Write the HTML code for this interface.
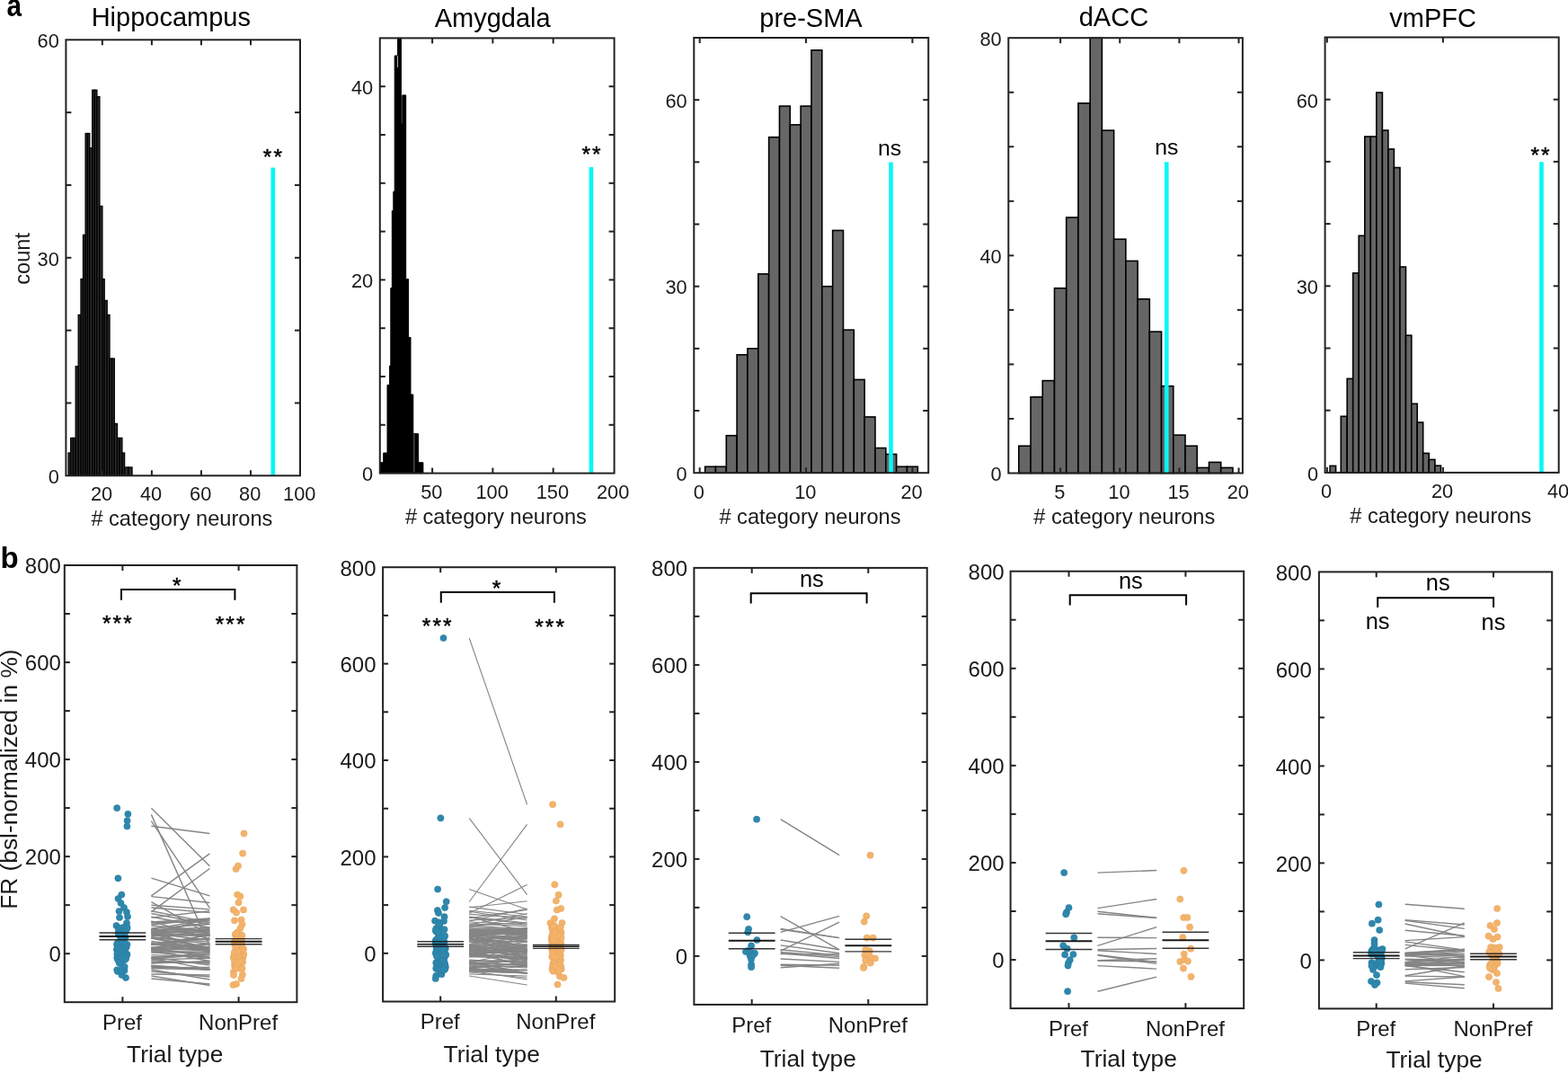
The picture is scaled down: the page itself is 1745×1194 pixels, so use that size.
<!DOCTYPE html>
<html><head><meta charset="utf-8"><title>Figure</title>
<style>html,body{margin:0;padding:0;background:#fff;width:1745px;height:1194px;overflow:hidden;}svg{display:block;}</style>
</head><body>
<svg width="1745" height="1194" viewBox="0 0 1745 1194" font-family="'Liberation Sans', Arial, sans-serif">
<text x="0" y="0" font-size="33" font-weight="bold" fill="#000" transform="matrix(0.9,0,0,1.08,7.4,18.4)">a</text>
<text x="0.5" y="632.2" font-size="33" text-anchor="start" font-weight="bold" fill="#000">b</text>
<rect x="76.1" y="504" width="2.6" height="25.3" fill="#2b2b2b" stroke="#000" stroke-width="1.3"/>
<rect x="78.7" y="487.4" width="2.8" height="41.9" fill="#2b2b2b" stroke="#000" stroke-width="1.3"/>
<rect x="81.5" y="487.4" width="2.7" height="41.9" fill="#2b2b2b" stroke="#000" stroke-width="1.3"/>
<rect x="84.2" y="407.6" width="3" height="121.7" fill="#2b2b2b" stroke="#000" stroke-width="1.3"/>
<rect x="87.2" y="350.4" width="2.8" height="178.9" fill="#2b2b2b" stroke="#000" stroke-width="1.3"/>
<rect x="90" y="310.5" width="2.5" height="218.8" fill="#2b2b2b" stroke="#000" stroke-width="1.3"/>
<rect x="92.5" y="261.4" width="2.6" height="267.9" fill="#2b2b2b" stroke="#000" stroke-width="1.3"/>
<rect x="95.1" y="148.5" width="2.4" height="380.8" fill="#2b2b2b" stroke="#000" stroke-width="1.3"/>
<rect x="97.5" y="148.5" width="2.3" height="380.8" fill="#2b2b2b" stroke="#000" stroke-width="1.3"/>
<rect x="99.8" y="164.7" width="2.9" height="364.6" fill="#2b2b2b" stroke="#000" stroke-width="1.3"/>
<rect x="102.7" y="100.2" width="2.6" height="429.1" fill="#2b2b2b" stroke="#000" stroke-width="1.3"/>
<rect x="105.3" y="100.2" width="2.6" height="429.1" fill="#2b2b2b" stroke="#000" stroke-width="1.3"/>
<rect x="107.9" y="107.6" width="3" height="421.7" fill="#2b2b2b" stroke="#000" stroke-width="1.3"/>
<rect x="110.9" y="229.4" width="3" height="299.9" fill="#2b2b2b" stroke="#000" stroke-width="1.3"/>
<rect x="113.9" y="310.5" width="2.3" height="218.8" fill="#2b2b2b" stroke="#000" stroke-width="1.3"/>
<rect x="116.2" y="334.4" width="3" height="194.9" fill="#2b2b2b" stroke="#000" stroke-width="1.3"/>
<rect x="119.2" y="350.4" width="2.8" height="178.9" fill="#2b2b2b" stroke="#000" stroke-width="1.3"/>
<rect x="122" y="399" width="2.6" height="130.3" fill="#2b2b2b" stroke="#000" stroke-width="1.3"/>
<rect x="124.6" y="399" width="2.7" height="130.3" fill="#2b2b2b" stroke="#000" stroke-width="1.3"/>
<rect x="127.3" y="471.4" width="3.2" height="57.9" fill="#2b2b2b" stroke="#000" stroke-width="1.3"/>
<rect x="130.5" y="487.4" width="2.7" height="41.9" fill="#2b2b2b" stroke="#000" stroke-width="1.3"/>
<rect x="133.2" y="487.4" width="2.7" height="41.9" fill="#2b2b2b" stroke="#000" stroke-width="1.3"/>
<rect x="135.9" y="504" width="2.7" height="25.3" fill="#2b2b2b" stroke="#000" stroke-width="1.3"/>
<rect x="138.6" y="520" width="4.2" height="9.3" fill="#2b2b2b" stroke="#000" stroke-width="1.3"/>
<rect x="142.8" y="520" width="4.2" height="9.3" fill="#2b2b2b" stroke="#000" stroke-width="1.3"/>
<line x1="303.8" y1="186.4" x2="303.8" y2="529.3" stroke="#05f8f8" stroke-width="4.6"/>
<rect x="73.4" y="44.3" width="260.6" height="485" fill="none" stroke="#222" stroke-width="2"/>
<line x1="113.85" y1="529.3" x2="113.85" y2="523.3" stroke="#222" stroke-width="2"/>
<line x1="113.85" y1="44.3" x2="113.85" y2="50.3" stroke="#222" stroke-width="2"/>
<line x1="168.9" y1="529.3" x2="168.9" y2="523.3" stroke="#222" stroke-width="2"/>
<line x1="168.9" y1="44.3" x2="168.9" y2="50.3" stroke="#222" stroke-width="2"/>
<line x1="223.95" y1="529.3" x2="223.95" y2="523.3" stroke="#222" stroke-width="2"/>
<line x1="223.95" y1="44.3" x2="223.95" y2="50.3" stroke="#222" stroke-width="2"/>
<line x1="279" y1="529.3" x2="279" y2="523.3" stroke="#222" stroke-width="2"/>
<line x1="279" y1="44.3" x2="279" y2="50.3" stroke="#222" stroke-width="2"/>
<line x1="73.4" y1="448.47" x2="79.4" y2="448.47" stroke="#222" stroke-width="2"/>
<line x1="334" y1="448.47" x2="328" y2="448.47" stroke="#222" stroke-width="2"/>
<line x1="73.4" y1="367.63" x2="79.4" y2="367.63" stroke="#222" stroke-width="2"/>
<line x1="334" y1="367.63" x2="328" y2="367.63" stroke="#222" stroke-width="2"/>
<line x1="73.4" y1="286.8" x2="79.4" y2="286.8" stroke="#222" stroke-width="2"/>
<line x1="334" y1="286.8" x2="328" y2="286.8" stroke="#222" stroke-width="2"/>
<line x1="73.4" y1="205.97" x2="79.4" y2="205.97" stroke="#222" stroke-width="2"/>
<line x1="334" y1="205.97" x2="328" y2="205.97" stroke="#222" stroke-width="2"/>
<line x1="73.4" y1="125.13" x2="79.4" y2="125.13" stroke="#222" stroke-width="2"/>
<line x1="334" y1="125.13" x2="328" y2="125.13" stroke="#222" stroke-width="2"/>
<text x="113.05" y="557.2" font-size="21.8" text-anchor="middle" fill="#1a1a1a">20</text>
<text x="168.1" y="557.2" font-size="21.8" text-anchor="middle" fill="#1a1a1a">40</text>
<text x="223.15" y="557.2" font-size="21.8" text-anchor="middle" fill="#1a1a1a">60</text>
<text x="278.2" y="557.2" font-size="21.8" text-anchor="middle" fill="#1a1a1a">80</text>
<text x="333.25" y="557.2" font-size="21.8" text-anchor="middle" fill="#1a1a1a">100</text>
<text x="65.8" y="538.1" font-size="21.8" text-anchor="end" fill="#1a1a1a">0</text>
<text x="65.8" y="295.6" font-size="21.8" text-anchor="end" fill="#1a1a1a">30</text>
<text x="65.8" y="53.1" font-size="21.8" text-anchor="end" fill="#1a1a1a">60</text>
<text x="202.4" y="584.9" font-size="23.6" text-anchor="middle" fill="#1a1a1a"># category neurons</text>
<text x="190.3" y="28.7" font-size="29" text-anchor="middle" fill="#000">Hippocampus</text>
<text x="297.6" y="182.9" font-size="24.5" text-anchor="middle" fill="#000" stroke="#000" stroke-width="0.45">*</text>
<text x="309.2" y="182.9" font-size="24.5" text-anchor="middle" fill="#000" stroke="#000" stroke-width="0.45">*</text>
<polygon points="423.5,526.6 423.5,514.7 426.7,514.7 426.7,504 431,504 431,428.3 433.6,428.3 433.6,407 434.8,407 434.8,320.5 436.3,320.5 436.3,234.6 437.8,234.6 437.8,213.2 439.2,213.2 439.2,62 442.6,62 442.6,42.4 446.4,42.4 446.4,137.3 447.8,137.3 447.8,105.9 451.7,105.9 451.7,310.5 454.5,310.5 454.5,375.4 457,375.4 457,439 459.8,439 459.8,482.7 465.6,482.7 465.6,514.7 470.9,514.7 470.9,526.6" fill="#000" stroke="#000" stroke-width="1"/>
<line x1="460.9" y1="483" x2="460.9" y2="525" stroke="#bbb" stroke-width="0.6"/>
<line x1="442.5" y1="62" x2="442.5" y2="75" stroke="#ddd" stroke-width="0.8"/>
<line x1="657.9" y1="185.9" x2="657.9" y2="526.6" stroke="#05f8f8" stroke-width="4.6"/>
<rect x="422.8" y="42.4" width="260.8" height="484.2" fill="none" stroke="#222" stroke-width="2"/>
<line x1="481.1" y1="526.6" x2="481.1" y2="520.6" stroke="#222" stroke-width="2"/>
<line x1="481.1" y1="42.4" x2="481.1" y2="48.4" stroke="#222" stroke-width="2"/>
<line x1="548.38" y1="526.6" x2="548.38" y2="520.6" stroke="#222" stroke-width="2"/>
<line x1="548.38" y1="42.4" x2="548.38" y2="48.4" stroke="#222" stroke-width="2"/>
<line x1="615.66" y1="526.6" x2="615.66" y2="520.6" stroke="#222" stroke-width="2"/>
<line x1="615.66" y1="42.4" x2="615.66" y2="48.4" stroke="#222" stroke-width="2"/>
<line x1="422.8" y1="472.8" x2="428.8" y2="472.8" stroke="#222" stroke-width="2"/>
<line x1="683.6" y1="472.8" x2="677.6" y2="472.8" stroke="#222" stroke-width="2"/>
<line x1="422.8" y1="419" x2="428.8" y2="419" stroke="#222" stroke-width="2"/>
<line x1="683.6" y1="419" x2="677.6" y2="419" stroke="#222" stroke-width="2"/>
<line x1="422.8" y1="365.2" x2="428.8" y2="365.2" stroke="#222" stroke-width="2"/>
<line x1="683.6" y1="365.2" x2="677.6" y2="365.2" stroke="#222" stroke-width="2"/>
<line x1="422.8" y1="311.4" x2="428.8" y2="311.4" stroke="#222" stroke-width="2"/>
<line x1="683.6" y1="311.4" x2="677.6" y2="311.4" stroke="#222" stroke-width="2"/>
<line x1="422.8" y1="257.6" x2="428.8" y2="257.6" stroke="#222" stroke-width="2"/>
<line x1="683.6" y1="257.6" x2="677.6" y2="257.6" stroke="#222" stroke-width="2"/>
<line x1="422.8" y1="203.8" x2="428.8" y2="203.8" stroke="#222" stroke-width="2"/>
<line x1="683.6" y1="203.8" x2="677.6" y2="203.8" stroke="#222" stroke-width="2"/>
<line x1="422.8" y1="150" x2="428.8" y2="150" stroke="#222" stroke-width="2"/>
<line x1="683.6" y1="150" x2="677.6" y2="150" stroke="#222" stroke-width="2"/>
<line x1="422.8" y1="96.2" x2="428.8" y2="96.2" stroke="#222" stroke-width="2"/>
<line x1="683.6" y1="96.2" x2="677.6" y2="96.2" stroke="#222" stroke-width="2"/>
<text x="480.3" y="554.5" font-size="21.8" text-anchor="middle" fill="#1a1a1a">50</text>
<text x="547.58" y="554.5" font-size="21.8" text-anchor="middle" fill="#1a1a1a">100</text>
<text x="614.86" y="554.5" font-size="21.8" text-anchor="middle" fill="#1a1a1a">150</text>
<text x="682.14" y="554.5" font-size="21.8" text-anchor="middle" fill="#1a1a1a">200</text>
<text x="415.2" y="535.4" font-size="21.8" text-anchor="end" fill="#1a1a1a">0</text>
<text x="415.2" y="320.2" font-size="21.8" text-anchor="end" fill="#1a1a1a">20</text>
<text x="415.2" y="105" font-size="21.8" text-anchor="end" fill="#1a1a1a">40</text>
<text x="551.9" y="582.7" font-size="23.6" text-anchor="middle" fill="#1a1a1a"># category neurons</text>
<text x="548.2" y="29.7" font-size="29" text-anchor="middle" fill="#000">Amygdala</text>
<text x="652.25" y="180.1" font-size="24.5" text-anchor="middle" fill="#000" stroke="#000" stroke-width="0.45">*</text>
<text x="663.85" y="180.1" font-size="24.5" text-anchor="middle" fill="#000" stroke="#000" stroke-width="0.45">*</text>
<rect x="784.62" y="519.28" width="11.84" height="6.92" fill="#666" stroke="#000" stroke-width="1.6"/>
<rect x="796.45" y="519.28" width="11.83" height="6.92" fill="#666" stroke="#000" stroke-width="1.6"/>
<rect x="808.29" y="484.7" width="11.84" height="41.5" fill="#666" stroke="#000" stroke-width="1.6"/>
<rect x="820.12" y="394.77" width="11.84" height="131.43" fill="#666" stroke="#000" stroke-width="1.6"/>
<rect x="831.96" y="387.86" width="11.83" height="138.34" fill="#666" stroke="#000" stroke-width="1.6"/>
<rect x="843.79" y="304.85" width="11.84" height="221.35" fill="#666" stroke="#000" stroke-width="1.6"/>
<rect x="855.63" y="152.67" width="11.84" height="373.53" fill="#666" stroke="#000" stroke-width="1.6"/>
<rect x="867.46" y="118.09" width="11.83" height="408.11" fill="#666" stroke="#000" stroke-width="1.6"/>
<rect x="879.3" y="138.84" width="11.84" height="387.36" fill="#666" stroke="#000" stroke-width="1.6"/>
<rect x="891.13" y="118.09" width="11.84" height="408.11" fill="#666" stroke="#000" stroke-width="1.6"/>
<rect x="902.97" y="55.83" width="11.83" height="470.37" fill="#666" stroke="#000" stroke-width="1.6"/>
<rect x="914.8" y="318.69" width="11.84" height="207.51" fill="#666" stroke="#000" stroke-width="1.6"/>
<rect x="926.64" y="256.43" width="11.84" height="269.77" fill="#666" stroke="#000" stroke-width="1.6"/>
<rect x="938.47" y="367.11" width="11.84" height="159.09" fill="#666" stroke="#000" stroke-width="1.6"/>
<rect x="950.31" y="422.44" width="11.83" height="103.76" fill="#666" stroke="#000" stroke-width="1.6"/>
<rect x="962.14" y="463.95" width="11.84" height="62.25" fill="#666" stroke="#000" stroke-width="1.6"/>
<rect x="973.98" y="498.53" width="11.83" height="27.67" fill="#666" stroke="#000" stroke-width="1.6"/>
<rect x="985.81" y="505.45" width="11.84" height="20.75" fill="#666" stroke="#000" stroke-width="1.6"/>
<rect x="997.65" y="519.28" width="11.84" height="6.92" fill="#666" stroke="#000" stroke-width="1.6"/>
<rect x="1009.48" y="519.28" width="11.84" height="6.92" fill="#666" stroke="#000" stroke-width="1.6"/>
<line x1="991.5" y1="180.4" x2="991.5" y2="526.2" stroke="#05f8f8" stroke-width="4.6"/>
<rect x="772.3" y="42" width="260.9" height="484.2" fill="none" stroke="#222" stroke-width="2"/>
<line x1="778.7" y1="526.2" x2="778.7" y2="520.2" stroke="#222" stroke-width="2"/>
<line x1="778.7" y1="42" x2="778.7" y2="48" stroke="#222" stroke-width="2"/>
<line x1="897.05" y1="526.2" x2="897.05" y2="520.2" stroke="#222" stroke-width="2"/>
<line x1="897.05" y1="42" x2="897.05" y2="48" stroke="#222" stroke-width="2"/>
<line x1="1015.4" y1="526.2" x2="1015.4" y2="520.2" stroke="#222" stroke-width="2"/>
<line x1="1015.4" y1="42" x2="1015.4" y2="48" stroke="#222" stroke-width="2"/>
<line x1="772.3" y1="457.03" x2="778.3" y2="457.03" stroke="#222" stroke-width="2"/>
<line x1="1033.2" y1="457.03" x2="1027.2" y2="457.03" stroke="#222" stroke-width="2"/>
<line x1="772.3" y1="387.86" x2="778.3" y2="387.86" stroke="#222" stroke-width="2"/>
<line x1="1033.2" y1="387.86" x2="1027.2" y2="387.86" stroke="#222" stroke-width="2"/>
<line x1="772.3" y1="318.69" x2="778.3" y2="318.69" stroke="#222" stroke-width="2"/>
<line x1="1033.2" y1="318.69" x2="1027.2" y2="318.69" stroke="#222" stroke-width="2"/>
<line x1="772.3" y1="249.51" x2="778.3" y2="249.51" stroke="#222" stroke-width="2"/>
<line x1="1033.2" y1="249.51" x2="1027.2" y2="249.51" stroke="#222" stroke-width="2"/>
<line x1="772.3" y1="180.34" x2="778.3" y2="180.34" stroke="#222" stroke-width="2"/>
<line x1="1033.2" y1="180.34" x2="1027.2" y2="180.34" stroke="#222" stroke-width="2"/>
<line x1="772.3" y1="111.17" x2="778.3" y2="111.17" stroke="#222" stroke-width="2"/>
<line x1="1033.2" y1="111.17" x2="1027.2" y2="111.17" stroke="#222" stroke-width="2"/>
<text x="777.9" y="555.3" font-size="21.8" text-anchor="middle" fill="#1a1a1a">0</text>
<text x="896.25" y="555.3" font-size="21.8" text-anchor="middle" fill="#1a1a1a">10</text>
<text x="1014.6" y="555.3" font-size="21.8" text-anchor="middle" fill="#1a1a1a">20</text>
<text x="764.7" y="535" font-size="21.8" text-anchor="end" fill="#1a1a1a">0</text>
<text x="764.7" y="327.49" font-size="21.8" text-anchor="end" fill="#1a1a1a">30</text>
<text x="764.7" y="119.97" font-size="21.8" text-anchor="end" fill="#1a1a1a">60</text>
<text x="901.45" y="583.3" font-size="23.6" text-anchor="middle" fill="#1a1a1a"># category neurons</text>
<text x="902.5" y="29.7" font-size="29" text-anchor="middle" fill="#000">pre-SMA</text>
<text x="990.1" y="172.9" font-size="24.8" text-anchor="middle" fill="#000">ns</text>
<rect x="1133.79" y="496.23" width="13.23" height="30.27" fill="#666" stroke="#000" stroke-width="1.6"/>
<rect x="1147.02" y="441.75" width="13.23" height="84.75" fill="#666" stroke="#000" stroke-width="1.6"/>
<rect x="1160.25" y="423.59" width="13.23" height="102.91" fill="#666" stroke="#000" stroke-width="1.6"/>
<rect x="1173.48" y="320.67" width="13.23" height="205.83" fill="#666" stroke="#000" stroke-width="1.6"/>
<rect x="1186.71" y="241.97" width="13.23" height="284.53" fill="#666" stroke="#000" stroke-width="1.6"/>
<rect x="1199.94" y="114.85" width="13.23" height="411.65" fill="#666" stroke="#000" stroke-width="1.6"/>
<rect x="1213.17" y="42.2" width="13.23" height="484.3" fill="#666" stroke="#000" stroke-width="1.6"/>
<rect x="1226.4" y="145.11" width="13.23" height="381.39" fill="#666" stroke="#000" stroke-width="1.6"/>
<rect x="1239.63" y="266.19" width="13.23" height="260.31" fill="#666" stroke="#000" stroke-width="1.6"/>
<rect x="1252.87" y="290.4" width="13.23" height="236.1" fill="#666" stroke="#000" stroke-width="1.6"/>
<rect x="1266.09" y="332.78" width="13.23" height="193.72" fill="#666" stroke="#000" stroke-width="1.6"/>
<rect x="1279.32" y="369.1" width="13.23" height="157.4" fill="#666" stroke="#000" stroke-width="1.6"/>
<rect x="1292.55" y="429.64" width="13.23" height="96.86" fill="#666" stroke="#000" stroke-width="1.6"/>
<rect x="1305.78" y="484.12" width="13.23" height="42.38" fill="#666" stroke="#000" stroke-width="1.6"/>
<rect x="1319.01" y="496.23" width="13.23" height="30.27" fill="#666" stroke="#000" stroke-width="1.6"/>
<rect x="1332.24" y="520.45" width="13.23" height="6.05" fill="#666" stroke="#000" stroke-width="1.6"/>
<rect x="1345.47" y="514.39" width="13.23" height="12.11" fill="#666" stroke="#000" stroke-width="1.6"/>
<rect x="1358.7" y="520.45" width="13.23" height="6.05" fill="#666" stroke="#000" stroke-width="1.6"/>
<line x1="1298.3" y1="180.2" x2="1298.3" y2="526.5" stroke="#05f8f8" stroke-width="4.6"/>
<rect x="1122.3" y="42.2" width="260.6" height="484.3" fill="none" stroke="#222" stroke-width="2"/>
<line x1="1180.1" y1="526.5" x2="1180.1" y2="520.5" stroke="#222" stroke-width="2"/>
<line x1="1180.1" y1="42.2" x2="1180.1" y2="48.2" stroke="#222" stroke-width="2"/>
<line x1="1246.25" y1="526.5" x2="1246.25" y2="520.5" stroke="#222" stroke-width="2"/>
<line x1="1246.25" y1="42.2" x2="1246.25" y2="48.2" stroke="#222" stroke-width="2"/>
<line x1="1312.4" y1="526.5" x2="1312.4" y2="520.5" stroke="#222" stroke-width="2"/>
<line x1="1312.4" y1="42.2" x2="1312.4" y2="48.2" stroke="#222" stroke-width="2"/>
<line x1="1378.55" y1="526.5" x2="1378.55" y2="520.5" stroke="#222" stroke-width="2"/>
<line x1="1378.55" y1="42.2" x2="1378.55" y2="48.2" stroke="#222" stroke-width="2"/>
<line x1="1122.3" y1="465.96" x2="1128.3" y2="465.96" stroke="#222" stroke-width="2"/>
<line x1="1382.9" y1="465.96" x2="1376.9" y2="465.96" stroke="#222" stroke-width="2"/>
<line x1="1122.3" y1="405.43" x2="1128.3" y2="405.43" stroke="#222" stroke-width="2"/>
<line x1="1382.9" y1="405.43" x2="1376.9" y2="405.43" stroke="#222" stroke-width="2"/>
<line x1="1122.3" y1="344.89" x2="1128.3" y2="344.89" stroke="#222" stroke-width="2"/>
<line x1="1382.9" y1="344.89" x2="1376.9" y2="344.89" stroke="#222" stroke-width="2"/>
<line x1="1122.3" y1="284.35" x2="1128.3" y2="284.35" stroke="#222" stroke-width="2"/>
<line x1="1382.9" y1="284.35" x2="1376.9" y2="284.35" stroke="#222" stroke-width="2"/>
<line x1="1122.3" y1="223.81" x2="1128.3" y2="223.81" stroke="#222" stroke-width="2"/>
<line x1="1382.9" y1="223.81" x2="1376.9" y2="223.81" stroke="#222" stroke-width="2"/>
<line x1="1122.3" y1="163.27" x2="1128.3" y2="163.27" stroke="#222" stroke-width="2"/>
<line x1="1382.9" y1="163.27" x2="1376.9" y2="163.27" stroke="#222" stroke-width="2"/>
<line x1="1122.3" y1="102.74" x2="1128.3" y2="102.74" stroke="#222" stroke-width="2"/>
<line x1="1382.9" y1="102.74" x2="1376.9" y2="102.74" stroke="#222" stroke-width="2"/>
<text x="1179.3" y="555.4" font-size="21.8" text-anchor="middle" fill="#1a1a1a">5</text>
<text x="1245.45" y="555.4" font-size="21.8" text-anchor="middle" fill="#1a1a1a">10</text>
<text x="1311.6" y="555.4" font-size="21.8" text-anchor="middle" fill="#1a1a1a">15</text>
<text x="1377.75" y="555.4" font-size="21.8" text-anchor="middle" fill="#1a1a1a">20</text>
<text x="1114.7" y="535.3" font-size="21.8" text-anchor="end" fill="#1a1a1a">0</text>
<text x="1114.7" y="293.15" font-size="21.8" text-anchor="end" fill="#1a1a1a">40</text>
<text x="1114.7" y="51" font-size="21.8" text-anchor="end" fill="#1a1a1a">80</text>
<text x="1251.3" y="583.3" font-size="23.6" text-anchor="middle" fill="#1a1a1a"># category neurons</text>
<text x="1239.4" y="29.4" font-size="29" text-anchor="middle" fill="#000">dACC</text>
<text x="1298.3" y="171.6" font-size="24.8" text-anchor="middle" fill="#000">ns</text>
<rect x="1480.1" y="518.4" width="6.5" height="7.5" fill="#666" stroke="#000" stroke-width="1.6"/>
<rect x="1492.3" y="463.3" width="6.9" height="62.6" fill="#666" stroke="#000" stroke-width="1.6"/>
<rect x="1499.2" y="421.4" width="6.5" height="104.5" fill="#666" stroke="#000" stroke-width="1.6"/>
<rect x="1505.7" y="303.9" width="6.5" height="222" fill="#666" stroke="#000" stroke-width="1.6"/>
<rect x="1512.2" y="262.3" width="6.6" height="263.6" fill="#666" stroke="#000" stroke-width="1.6"/>
<rect x="1518.8" y="152" width="6.5" height="373.9" fill="#666" stroke="#000" stroke-width="1.6"/>
<rect x="1525.3" y="152" width="6.5" height="373.9" fill="#666" stroke="#000" stroke-width="1.6"/>
<rect x="1531.8" y="103" width="6.6" height="422.9" fill="#666" stroke="#000" stroke-width="1.6"/>
<rect x="1538.4" y="145" width="6.5" height="380.9" fill="#666" stroke="#000" stroke-width="1.6"/>
<rect x="1544.9" y="165.9" width="6.5" height="360" fill="#666" stroke="#000" stroke-width="1.6"/>
<rect x="1551.4" y="186.5" width="6.6" height="339.4" fill="#666" stroke="#000" stroke-width="1.6"/>
<rect x="1558" y="297" width="6.5" height="228.9" fill="#666" stroke="#000" stroke-width="1.6"/>
<rect x="1564.5" y="373.2" width="6.3" height="152.7" fill="#666" stroke="#000" stroke-width="1.6"/>
<rect x="1570.8" y="449.3" width="6.4" height="76.6" fill="#666" stroke="#000" stroke-width="1.6"/>
<rect x="1577.2" y="470" width="6.5" height="55.9" fill="#666" stroke="#000" stroke-width="1.6"/>
<rect x="1583.7" y="504.4" width="6.6" height="21.5" fill="#666" stroke="#000" stroke-width="1.6"/>
<rect x="1590.3" y="511.4" width="6.6" height="14.5" fill="#666" stroke="#000" stroke-width="1.6"/>
<rect x="1596.9" y="518.2" width="6.6" height="7.7" fill="#666" stroke="#000" stroke-width="1.6"/>
<line x1="1715.5" y1="180.2" x2="1715.5" y2="525.9" stroke="#05f8f8" stroke-width="4.6"/>
<rect x="1474.6" y="41.5" width="260.1" height="484.4" fill="none" stroke="#222" stroke-width="2"/>
<line x1="1476.9" y1="525.9" x2="1476.9" y2="519.9" stroke="#222" stroke-width="2"/>
<line x1="1476.9" y1="41.5" x2="1476.9" y2="47.5" stroke="#222" stroke-width="2"/>
<line x1="1605.9" y1="525.9" x2="1605.9" y2="519.9" stroke="#222" stroke-width="2"/>
<line x1="1605.9" y1="41.5" x2="1605.9" y2="47.5" stroke="#222" stroke-width="2"/>
<line x1="1474.6" y1="456.7" x2="1480.6" y2="456.7" stroke="#222" stroke-width="2"/>
<line x1="1734.7" y1="456.7" x2="1728.7" y2="456.7" stroke="#222" stroke-width="2"/>
<line x1="1474.6" y1="387.5" x2="1480.6" y2="387.5" stroke="#222" stroke-width="2"/>
<line x1="1734.7" y1="387.5" x2="1728.7" y2="387.5" stroke="#222" stroke-width="2"/>
<line x1="1474.6" y1="318.3" x2="1480.6" y2="318.3" stroke="#222" stroke-width="2"/>
<line x1="1734.7" y1="318.3" x2="1728.7" y2="318.3" stroke="#222" stroke-width="2"/>
<line x1="1474.6" y1="249.1" x2="1480.6" y2="249.1" stroke="#222" stroke-width="2"/>
<line x1="1734.7" y1="249.1" x2="1728.7" y2="249.1" stroke="#222" stroke-width="2"/>
<line x1="1474.6" y1="179.9" x2="1480.6" y2="179.9" stroke="#222" stroke-width="2"/>
<line x1="1734.7" y1="179.9" x2="1728.7" y2="179.9" stroke="#222" stroke-width="2"/>
<line x1="1474.6" y1="110.7" x2="1480.6" y2="110.7" stroke="#222" stroke-width="2"/>
<line x1="1734.7" y1="110.7" x2="1728.7" y2="110.7" stroke="#222" stroke-width="2"/>
<text x="1476.1" y="553.8" font-size="21.8" text-anchor="middle" fill="#1a1a1a">0</text>
<text x="1605.1" y="553.8" font-size="21.8" text-anchor="middle" fill="#1a1a1a">20</text>
<text x="1734.1" y="553.8" font-size="21.8" text-anchor="middle" fill="#1a1a1a">40</text>
<text x="1467" y="534.7" font-size="21.8" text-anchor="end" fill="#1a1a1a">0</text>
<text x="1467" y="327.1" font-size="21.8" text-anchor="end" fill="#1a1a1a">30</text>
<text x="1467" y="119.5" font-size="21.8" text-anchor="end" fill="#1a1a1a">60</text>
<text x="1603.35" y="582.2" font-size="23.6" text-anchor="middle" fill="#1a1a1a"># category neurons</text>
<text x="1594.6" y="30.2" font-size="29" text-anchor="middle" fill="#000">vmPFC</text>
<text x="1708.25" y="180.9" font-size="24.5" text-anchor="middle" fill="#000" stroke="#000" stroke-width="0.45">*</text>
<text x="1719.85" y="180.9" font-size="24.5" text-anchor="middle" fill="#000" stroke="#000" stroke-width="0.45">*</text>
<text x="32.9" y="287.9" font-size="23.6" text-anchor="middle" fill="#1a1a1a" transform="rotate(-90 32.9 287.9)">count</text>
<g stroke="#858585" stroke-width="1.4">
<line x1="168.4" y1="899.2" x2="233.4" y2="963.7"/>
<line x1="168.4" y1="906.4" x2="233.4" y2="1053"/>
<line x1="168.4" y1="913.6" x2="233.4" y2="1010.3"/>
<line x1="168.4" y1="919.3" x2="233.4" y2="927.5"/>
<line x1="168.4" y1="977.2" x2="233.4" y2="996.9"/>
<line x1="168.4" y1="996.9" x2="233.4" y2="949.9"/>
<line x1="168.4" y1="1014.6" x2="233.4" y2="966.5"/>
<line x1="168.4" y1="997.6" x2="233.4" y2="1004.5"/>
<line x1="168.4" y1="1003.6" x2="233.4" y2="1040"/>
<line x1="168.4" y1="1007.3" x2="233.4" y2="1011.9"/>
<line x1="168.4" y1="1010" x2="233.4" y2="1015.6"/>
<line x1="168.4" y1="1013.7" x2="233.4" y2="1026.6"/>
<line x1="168.4" y1="1016.5" x2="233.4" y2="1028.5"/>
<line x1="168.4" y1="1020.2" x2="233.4" y2="1032.2"/>
<line x1="168.4" y1="1021.1" x2="233.4" y2="1013.7"/>
<line x1="168.4" y1="1025" x2="233.4" y2="1045"/>
<line x1="168.4" y1="1027" x2="233.4" y2="1024"/>
<line x1="168.4" y1="1030" x2="233.4" y2="1036"/>
<line x1="168.4" y1="1086" x2="233.4" y2="1096.5"/>
<line x1="168.4" y1="1089" x2="233.4" y2="1095"/>
<line x1="168.4" y1="1081" x2="233.4" y2="1087"/>
<line x1="168.4" y1="1079" x2="233.4" y2="1090"/>
<line x1="168.4" y1="1084" x2="233.4" y2="1085"/>
<line x1="168.4" y1="1077.57" x2="233.4" y2="1079"/>
<line x1="168.4" y1="1054.12" x2="233.4" y2="1050.48"/>
<line x1="168.4" y1="1057.66" x2="233.4" y2="1055.5"/>
<line x1="168.4" y1="1049.38" x2="233.4" y2="1055.41"/>
<line x1="168.4" y1="1066.33" x2="233.4" y2="1078.68"/>
<line x1="168.4" y1="1054.5" x2="233.4" y2="1056.9"/>
<line x1="168.4" y1="1036.76" x2="233.4" y2="1037"/>
<line x1="168.4" y1="1057.52" x2="233.4" y2="1069.49"/>
<line x1="168.4" y1="1038.7" x2="233.4" y2="1055.49"/>
<line x1="168.4" y1="1076.81" x2="233.4" y2="1076.33"/>
<line x1="168.4" y1="1040.4" x2="233.4" y2="1041.15"/>
<line x1="168.4" y1="1068.72" x2="233.4" y2="1072.26"/>
<line x1="168.4" y1="1047.36" x2="233.4" y2="1054.83"/>
<line x1="168.4" y1="1074.28" x2="233.4" y2="1079"/>
<line x1="168.4" y1="1070.4" x2="233.4" y2="1071.12"/>
<line x1="168.4" y1="1074.61" x2="233.4" y2="1079"/>
<line x1="168.4" y1="1059.96" x2="233.4" y2="1059.77"/>
<line x1="168.4" y1="1038.42" x2="233.4" y2="1037"/>
<line x1="168.4" y1="1064.9" x2="233.4" y2="1062.79"/>
<line x1="168.4" y1="1075.41" x2="233.4" y2="1077.99"/>
<line x1="168.4" y1="1062.65" x2="233.4" y2="1064.85"/>
<line x1="168.4" y1="1071.96" x2="233.4" y2="1069.39"/>
<line x1="168.4" y1="1038.8" x2="233.4" y2="1046.24"/>
<line x1="168.4" y1="1050.24" x2="233.4" y2="1043.73"/>
<line x1="168.4" y1="1059.23" x2="233.4" y2="1066.59"/>
<line x1="168.4" y1="1041.43" x2="233.4" y2="1039.27"/>
<line x1="168.4" y1="1058.13" x2="233.4" y2="1059.45"/>
<line x1="168.4" y1="1042.78" x2="233.4" y2="1048.1"/>
<line x1="168.4" y1="1038.12" x2="233.4" y2="1041.44"/>
<line x1="168.4" y1="1048.81" x2="233.4" y2="1057.24"/>
<line x1="168.4" y1="1067.9" x2="233.4" y2="1066.27"/>
<line x1="168.4" y1="1043.47" x2="233.4" y2="1054.74"/>
<line x1="168.4" y1="1050.57" x2="233.4" y2="1058.36"/>
<line x1="168.4" y1="1036.64" x2="233.4" y2="1038.42"/>
<line x1="168.4" y1="1066.79" x2="233.4" y2="1062.25"/>
<line x1="168.4" y1="1055.94" x2="233.4" y2="1055.1"/>
<line x1="168.4" y1="1075.25" x2="233.4" y2="1079"/>
<line x1="168.4" y1="1054.15" x2="233.4" y2="1065.45"/>
<line x1="168.4" y1="1056.79" x2="233.4" y2="1062.35"/>
<line x1="168.4" y1="1057.28" x2="233.4" y2="1050.53"/>
<line x1="168.4" y1="1064.89" x2="233.4" y2="1074.08"/>
<line x1="168.4" y1="1070.96" x2="233.4" y2="1071.05"/>
<line x1="168.4" y1="1065.68" x2="233.4" y2="1060.66"/>
<line x1="168.4" y1="1050.6" x2="233.4" y2="1044.68"/>
<line x1="168.4" y1="1038.28" x2="233.4" y2="1041.65"/>
<line x1="168.4" y1="1051.19" x2="233.4" y2="1053.5"/>
<line x1="168.4" y1="1034.69" x2="233.4" y2="1034.33"/>
<line x1="168.4" y1="1054.6" x2="233.4" y2="1058.28"/>
<line x1="168.4" y1="1055.6" x2="233.4" y2="1050.4"/>
<line x1="168.4" y1="1034.24" x2="233.4" y2="1022.63"/>
<line x1="168.4" y1="1035.96" x2="233.4" y2="1026.34"/>
<line x1="168.4" y1="1041.16" x2="233.4" y2="1040.71"/>
<line x1="168.4" y1="1034.95" x2="233.4" y2="1060"/>
<line x1="168.4" y1="1044.6" x2="233.4" y2="1035.13"/>
<line x1="168.4" y1="1034.31" x2="233.4" y2="1041.38"/>
<line x1="168.4" y1="1038.12" x2="233.4" y2="1033.34"/>
<line x1="168.4" y1="1026.04" x2="233.4" y2="1022"/>
<line x1="168.4" y1="1043.09" x2="233.4" y2="1050.32"/>
<line x1="168.4" y1="1032.83" x2="233.4" y2="1028.44"/>
<line x1="168.4" y1="1034.98" x2="233.4" y2="1032"/>
<line x1="168.4" y1="1029.05" x2="233.4" y2="1022.58"/>
<line x1="168.4" y1="1026.76" x2="233.4" y2="1024.92"/>
<line x1="168.4" y1="1036.34" x2="233.4" y2="1035.28"/>
<line x1="168.4" y1="1043.99" x2="233.4" y2="1057.94"/>
<line x1="168.4" y1="1051.52" x2="233.4" y2="1040.07"/>
<line x1="168.4" y1="1055.89" x2="233.4" y2="1039.49"/>
<line x1="168.4" y1="1039.24" x2="233.4" y2="1022"/>
</g>
<circle cx="130.2" cy="899.2" r="3.6" fill="#2e87ad" stroke="#2a7ea3" stroke-width="0.6"/>
<circle cx="142.4" cy="905.9" r="3.6" fill="#2e87ad" stroke="#2a7ea3" stroke-width="0.6"/>
<circle cx="141.6" cy="913.3" r="3.6" fill="#2e87ad" stroke="#2a7ea3" stroke-width="0.6"/>
<circle cx="141.4" cy="919.5" r="3.6" fill="#2e87ad" stroke="#2a7ea3" stroke-width="0.6"/>
<circle cx="131.4" cy="977.3" r="3.6" fill="#2e87ad" stroke="#2a7ea3" stroke-width="0.6"/>
<circle cx="135.3" cy="995.6" r="3.6" fill="#2e87ad" stroke="#2a7ea3" stroke-width="0.6"/>
<circle cx="131.5" cy="1000" r="3.6" fill="#2e87ad" stroke="#2a7ea3" stroke-width="0.6"/>
<circle cx="134.5" cy="1005" r="3.6" fill="#2e87ad" stroke="#2a7ea3" stroke-width="0.6"/>
<circle cx="138" cy="1010" r="3.6" fill="#2e87ad" stroke="#2a7ea3" stroke-width="0.6"/>
<circle cx="141" cy="1015" r="3.6" fill="#2e87ad" stroke="#2a7ea3" stroke-width="0.6"/>
<circle cx="132.5" cy="1014" r="3.6" fill="#2e87ad" stroke="#2a7ea3" stroke-width="0.6"/>
<circle cx="142" cy="1020" r="3.6" fill="#2e87ad" stroke="#2a7ea3" stroke-width="0.6"/>
<circle cx="133" cy="1021" r="3.6" fill="#2e87ad" stroke="#2a7ea3" stroke-width="0.6"/>
<circle cx="141" cy="1027" r="3.6" fill="#2e87ad" stroke="#2a7ea3" stroke-width="0.6"/>
<circle cx="129.5" cy="1030" r="3.6" fill="#2e87ad" stroke="#2a7ea3" stroke-width="0.6"/>
<circle cx="140" cy="1088" r="3.6" fill="#2e87ad" stroke="#2a7ea3" stroke-width="0.6"/>
<circle cx="135.5" cy="1085" r="3.6" fill="#2e87ad" stroke="#2a7ea3" stroke-width="0.6"/>
<circle cx="131" cy="1081" r="3.6" fill="#2e87ad" stroke="#2a7ea3" stroke-width="0.6"/>
<circle cx="138" cy="1079" r="3.6" fill="#2e87ad" stroke="#2a7ea3" stroke-width="0.6"/>
<circle cx="134.67" cy="1033.56" r="3.6" fill="#2e87ad" stroke="#2a7ea3" stroke-width="0.6"/>
<circle cx="138.07" cy="1032.23" r="3.6" fill="#2e87ad" stroke="#2a7ea3" stroke-width="0.6"/>
<circle cx="136.87" cy="1037.22" r="3.6" fill="#2e87ad" stroke="#2a7ea3" stroke-width="0.6"/>
<circle cx="131.9" cy="1039.63" r="3.6" fill="#2e87ad" stroke="#2a7ea3" stroke-width="0.6"/>
<circle cx="131.69" cy="1038.37" r="3.6" fill="#2e87ad" stroke="#2a7ea3" stroke-width="0.6"/>
<circle cx="132.03" cy="1032.54" r="3.6" fill="#2e87ad" stroke="#2a7ea3" stroke-width="0.6"/>
<circle cx="135.71" cy="1045.06" r="3.6" fill="#2e87ad" stroke="#2a7ea3" stroke-width="0.6"/>
<circle cx="132.59" cy="1034.8" r="3.6" fill="#2e87ad" stroke="#2a7ea3" stroke-width="0.6"/>
<circle cx="137.83" cy="1047.11" r="3.6" fill="#2e87ad" stroke="#2a7ea3" stroke-width="0.6"/>
<circle cx="137.3" cy="1037.74" r="3.6" fill="#2e87ad" stroke="#2a7ea3" stroke-width="0.6"/>
<circle cx="141.45" cy="1031.79" r="3.6" fill="#2e87ad" stroke="#2a7ea3" stroke-width="0.6"/>
<circle cx="140.23" cy="1035.92" r="3.6" fill="#2e87ad" stroke="#2a7ea3" stroke-width="0.6"/>
<circle cx="132.8" cy="1033" r="3.6" fill="#2e87ad" stroke="#2a7ea3" stroke-width="0.6"/>
<circle cx="134.51" cy="1044.87" r="3.6" fill="#2e87ad" stroke="#2a7ea3" stroke-width="0.6"/>
<circle cx="133.18" cy="1040.89" r="3.6" fill="#2e87ad" stroke="#2a7ea3" stroke-width="0.6"/>
<circle cx="137.94" cy="1037.33" r="3.6" fill="#2e87ad" stroke="#2a7ea3" stroke-width="0.6"/>
<circle cx="137" cy="1032.07" r="3.6" fill="#2e87ad" stroke="#2a7ea3" stroke-width="0.6"/>
<circle cx="131.92" cy="1034.5" r="3.6" fill="#2e87ad" stroke="#2a7ea3" stroke-width="0.6"/>
<circle cx="138.38" cy="1038.27" r="3.6" fill="#2e87ad" stroke="#2a7ea3" stroke-width="0.6"/>
<circle cx="134.57" cy="1040.95" r="3.6" fill="#2e87ad" stroke="#2a7ea3" stroke-width="0.6"/>
<circle cx="136.01" cy="1036.1" r="3.6" fill="#2e87ad" stroke="#2a7ea3" stroke-width="0.6"/>
<circle cx="139.56" cy="1042.88" r="3.6" fill="#2e87ad" stroke="#2a7ea3" stroke-width="0.6"/>
<circle cx="133.84" cy="1040.77" r="3.6" fill="#2e87ad" stroke="#2a7ea3" stroke-width="0.6"/>
<circle cx="136.76" cy="1045.88" r="3.6" fill="#2e87ad" stroke="#2a7ea3" stroke-width="0.6"/>
<circle cx="138.89" cy="1035.89" r="3.6" fill="#2e87ad" stroke="#2a7ea3" stroke-width="0.6"/>
<circle cx="141.49" cy="1033.01" r="3.6" fill="#2e87ad" stroke="#2a7ea3" stroke-width="0.6"/>
<circle cx="135.65" cy="1043.87" r="3.6" fill="#2e87ad" stroke="#2a7ea3" stroke-width="0.6"/>
<circle cx="132.88" cy="1039.31" r="3.6" fill="#2e87ad" stroke="#2a7ea3" stroke-width="0.6"/>
<circle cx="130.47" cy="1061.36" r="3.6" fill="#2e87ad" stroke="#2a7ea3" stroke-width="0.6"/>
<circle cx="139.17" cy="1059.46" r="3.6" fill="#2e87ad" stroke="#2a7ea3" stroke-width="0.6"/>
<circle cx="140.51" cy="1054.27" r="3.6" fill="#2e87ad" stroke="#2a7ea3" stroke-width="0.6"/>
<circle cx="138.34" cy="1059.89" r="3.6" fill="#2e87ad" stroke="#2a7ea3" stroke-width="0.6"/>
<circle cx="136.96" cy="1057.12" r="3.6" fill="#2e87ad" stroke="#2a7ea3" stroke-width="0.6"/>
<circle cx="140.08" cy="1066.89" r="3.6" fill="#2e87ad" stroke="#2a7ea3" stroke-width="0.6"/>
<circle cx="135.69" cy="1061.28" r="3.6" fill="#2e87ad" stroke="#2a7ea3" stroke-width="0.6"/>
<circle cx="130.73" cy="1062.03" r="3.6" fill="#2e87ad" stroke="#2a7ea3" stroke-width="0.6"/>
<circle cx="137.77" cy="1067.86" r="3.6" fill="#2e87ad" stroke="#2a7ea3" stroke-width="0.6"/>
<circle cx="139.86" cy="1053.69" r="3.6" fill="#2e87ad" stroke="#2a7ea3" stroke-width="0.6"/>
<circle cx="134.63" cy="1061.37" r="3.6" fill="#2e87ad" stroke="#2a7ea3" stroke-width="0.6"/>
<circle cx="130.27" cy="1057.23" r="3.6" fill="#2e87ad" stroke="#2a7ea3" stroke-width="0.6"/>
<circle cx="132.02" cy="1050.34" r="3.6" fill="#2e87ad" stroke="#2a7ea3" stroke-width="0.6"/>
<circle cx="130.71" cy="1063.36" r="3.6" fill="#2e87ad" stroke="#2a7ea3" stroke-width="0.6"/>
<circle cx="131.55" cy="1052.95" r="3.6" fill="#2e87ad" stroke="#2a7ea3" stroke-width="0.6"/>
<circle cx="134.69" cy="1065.43" r="3.6" fill="#2e87ad" stroke="#2a7ea3" stroke-width="0.6"/>
<circle cx="130.97" cy="1056.98" r="3.6" fill="#2e87ad" stroke="#2a7ea3" stroke-width="0.6"/>
<circle cx="136.59" cy="1065.67" r="3.6" fill="#2e87ad" stroke="#2a7ea3" stroke-width="0.6"/>
<circle cx="139.83" cy="1065.28" r="3.6" fill="#2e87ad" stroke="#2a7ea3" stroke-width="0.6"/>
<circle cx="133.34" cy="1056.31" r="3.6" fill="#2e87ad" stroke="#2a7ea3" stroke-width="0.6"/>
<circle cx="134.31" cy="1065.68" r="3.6" fill="#2e87ad" stroke="#2a7ea3" stroke-width="0.6"/>
<circle cx="141.49" cy="1051.02" r="3.6" fill="#2e87ad" stroke="#2a7ea3" stroke-width="0.6"/>
<circle cx="132.11" cy="1052.64" r="3.6" fill="#2e87ad" stroke="#2a7ea3" stroke-width="0.6"/>
<circle cx="132.8" cy="1057.7" r="3.6" fill="#2e87ad" stroke="#2a7ea3" stroke-width="0.6"/>
<circle cx="137.07" cy="1053.25" r="3.6" fill="#2e87ad" stroke="#2a7ea3" stroke-width="0.6"/>
<circle cx="130.05" cy="1056.38" r="3.6" fill="#2e87ad" stroke="#2a7ea3" stroke-width="0.6"/>
<circle cx="134.43" cy="1059.33" r="3.6" fill="#2e87ad" stroke="#2a7ea3" stroke-width="0.6"/>
<circle cx="141.44" cy="1061.81" r="3.6" fill="#2e87ad" stroke="#2a7ea3" stroke-width="0.6"/>
<circle cx="136.19" cy="1060.35" r="3.6" fill="#2e87ad" stroke="#2a7ea3" stroke-width="0.6"/>
<circle cx="138.11" cy="1049.08" r="3.6" fill="#2e87ad" stroke="#2a7ea3" stroke-width="0.6"/>
<circle cx="140.79" cy="1063.6" r="3.6" fill="#2e87ad" stroke="#2a7ea3" stroke-width="0.6"/>
<circle cx="140.49" cy="1063.96" r="3.6" fill="#2e87ad" stroke="#2a7ea3" stroke-width="0.6"/>
<circle cx="134.71" cy="1055.98" r="3.6" fill="#2e87ad" stroke="#2a7ea3" stroke-width="0.6"/>
<circle cx="131.24" cy="1060.69" r="3.6" fill="#2e87ad" stroke="#2a7ea3" stroke-width="0.6"/>
<circle cx="130.75" cy="1049.35" r="3.6" fill="#2e87ad" stroke="#2a7ea3" stroke-width="0.6"/>
<circle cx="132.51" cy="1051.25" r="3.6" fill="#2e87ad" stroke="#2a7ea3" stroke-width="0.6"/>
<circle cx="134.08" cy="1049.05" r="3.6" fill="#2e87ad" stroke="#2a7ea3" stroke-width="0.6"/>
<circle cx="130" cy="1051.03" r="3.6" fill="#2e87ad" stroke="#2a7ea3" stroke-width="0.6"/>
<circle cx="131.22" cy="1055.27" r="3.6" fill="#2e87ad" stroke="#2a7ea3" stroke-width="0.6"/>
<circle cx="130.31" cy="1065.49" r="3.6" fill="#2e87ad" stroke="#2a7ea3" stroke-width="0.6"/>
<circle cx="136.14" cy="1068.08" r="3.6" fill="#2e87ad" stroke="#2a7ea3" stroke-width="0.6"/>
<circle cx="132.52" cy="1070.86" r="3.6" fill="#2e87ad" stroke="#2a7ea3" stroke-width="0.6"/>
<circle cx="133.64" cy="1067.72" r="3.6" fill="#2e87ad" stroke="#2a7ea3" stroke-width="0.6"/>
<circle cx="138.49" cy="1079.9" r="3.6" fill="#2e87ad" stroke="#2a7ea3" stroke-width="0.6"/>
<circle cx="134.66" cy="1072.77" r="3.6" fill="#2e87ad" stroke="#2a7ea3" stroke-width="0.6"/>
<circle cx="130.86" cy="1067.43" r="3.6" fill="#2e87ad" stroke="#2a7ea3" stroke-width="0.6"/>
<circle cx="133.43" cy="1069.71" r="3.6" fill="#2e87ad" stroke="#2a7ea3" stroke-width="0.6"/>
<circle cx="138.29" cy="1068.26" r="3.6" fill="#2e87ad" stroke="#2a7ea3" stroke-width="0.6"/>
<circle cx="130.23" cy="1079.31" r="3.6" fill="#2e87ad" stroke="#2a7ea3" stroke-width="0.6"/>
<circle cx="135.28" cy="1068.05" r="3.6" fill="#2e87ad" stroke="#2a7ea3" stroke-width="0.6"/>
<circle cx="135.43" cy="1066.38" r="3.6" fill="#2e87ad" stroke="#2a7ea3" stroke-width="0.6"/>
<circle cx="135.28" cy="1079.7" r="3.6" fill="#2e87ad" stroke="#2a7ea3" stroke-width="0.6"/>
<circle cx="138.63" cy="1075.75" r="3.6" fill="#2e87ad" stroke="#2a7ea3" stroke-width="0.6"/>
<circle cx="132.61" cy="1071.13" r="3.6" fill="#2e87ad" stroke="#2a7ea3" stroke-width="0.6"/>
<circle cx="271.5" cy="927.5" r="3.6" fill="#f3b36b" stroke="#e9a75e" stroke-width="0.6"/>
<circle cx="270.1" cy="949.6" r="3.6" fill="#f3b36b" stroke="#e9a75e" stroke-width="0.6"/>
<circle cx="262.6" cy="967" r="3.6" fill="#f3b36b" stroke="#e9a75e" stroke-width="0.6"/>
<circle cx="265" cy="963.5" r="3.6" fill="#f3b36b" stroke="#e9a75e" stroke-width="0.6"/>
<circle cx="264.1" cy="995.5" r="3.6" fill="#f3b36b" stroke="#e9a75e" stroke-width="0.6"/>
<circle cx="267.3" cy="997.4" r="3.6" fill="#f3b36b" stroke="#e9a75e" stroke-width="0.6"/>
<circle cx="265.5" cy="1004.3" r="3.6" fill="#f3b36b" stroke="#e9a75e" stroke-width="0.6"/>
<circle cx="259.7" cy="1012.4" r="3.6" fill="#f3b36b" stroke="#e9a75e" stroke-width="0.6"/>
<circle cx="263.1" cy="1015.5" r="3.6" fill="#f3b36b" stroke="#e9a75e" stroke-width="0.6"/>
<circle cx="271" cy="1012.4" r="3.6" fill="#f3b36b" stroke="#e9a75e" stroke-width="0.6"/>
<circle cx="261" cy="1024.3" r="3.6" fill="#f3b36b" stroke="#e9a75e" stroke-width="0.6"/>
<circle cx="268.5" cy="1023.5" r="3.6" fill="#f3b36b" stroke="#e9a75e" stroke-width="0.6"/>
<circle cx="269.5" cy="1028.5" r="3.6" fill="#f3b36b" stroke="#e9a75e" stroke-width="0.6"/>
<circle cx="267.5" cy="1032.8" r="3.6" fill="#f3b36b" stroke="#e9a75e" stroke-width="0.6"/>
<circle cx="259.9" cy="1081.5" r="3.6" fill="#f3b36b" stroke="#e9a75e" stroke-width="0.6"/>
<circle cx="260" cy="1085" r="3.6" fill="#f3b36b" stroke="#e9a75e" stroke-width="0.6"/>
<circle cx="269.9" cy="1084.5" r="3.6" fill="#f3b36b" stroke="#e9a75e" stroke-width="0.6"/>
<circle cx="268.5" cy="1089" r="3.6" fill="#f3b36b" stroke="#e9a75e" stroke-width="0.6"/>
<circle cx="259.5" cy="1096" r="3.6" fill="#f3b36b" stroke="#e9a75e" stroke-width="0.6"/>
<circle cx="263" cy="1095" r="3.6" fill="#f3b36b" stroke="#e9a75e" stroke-width="0.6"/>
<circle cx="262.84" cy="1044.72" r="3.6" fill="#f3b36b" stroke="#e9a75e" stroke-width="0.6"/>
<circle cx="265.76" cy="1044.79" r="3.6" fill="#f3b36b" stroke="#e9a75e" stroke-width="0.6"/>
<circle cx="264.14" cy="1039.23" r="3.6" fill="#f3b36b" stroke="#e9a75e" stroke-width="0.6"/>
<circle cx="267.99" cy="1046.85" r="3.6" fill="#f3b36b" stroke="#e9a75e" stroke-width="0.6"/>
<circle cx="268.32" cy="1045.06" r="3.6" fill="#f3b36b" stroke="#e9a75e" stroke-width="0.6"/>
<circle cx="268.05" cy="1044.4" r="3.6" fill="#f3b36b" stroke="#e9a75e" stroke-width="0.6"/>
<circle cx="263.31" cy="1042.18" r="3.6" fill="#f3b36b" stroke="#e9a75e" stroke-width="0.6"/>
<circle cx="264.34" cy="1037.29" r="3.6" fill="#f3b36b" stroke="#e9a75e" stroke-width="0.6"/>
<circle cx="261.72" cy="1039.79" r="3.6" fill="#f3b36b" stroke="#e9a75e" stroke-width="0.6"/>
<circle cx="263.57" cy="1043.93" r="3.6" fill="#f3b36b" stroke="#e9a75e" stroke-width="0.6"/>
<circle cx="269.15" cy="1041.47" r="3.6" fill="#f3b36b" stroke="#e9a75e" stroke-width="0.6"/>
<circle cx="269" cy="1046.88" r="3.6" fill="#f3b36b" stroke="#e9a75e" stroke-width="0.6"/>
<circle cx="269.14" cy="1040.65" r="3.6" fill="#f3b36b" stroke="#e9a75e" stroke-width="0.6"/>
<circle cx="263.26" cy="1039.27" r="3.6" fill="#f3b36b" stroke="#e9a75e" stroke-width="0.6"/>
<circle cx="261.98" cy="1051.7" r="3.6" fill="#f3b36b" stroke="#e9a75e" stroke-width="0.6"/>
<circle cx="266.94" cy="1067.71" r="3.6" fill="#f3b36b" stroke="#e9a75e" stroke-width="0.6"/>
<circle cx="269.45" cy="1058.03" r="3.6" fill="#f3b36b" stroke="#e9a75e" stroke-width="0.6"/>
<circle cx="267.27" cy="1065.39" r="3.6" fill="#f3b36b" stroke="#e9a75e" stroke-width="0.6"/>
<circle cx="260.68" cy="1062.19" r="3.6" fill="#f3b36b" stroke="#e9a75e" stroke-width="0.6"/>
<circle cx="270.25" cy="1064.99" r="3.6" fill="#f3b36b" stroke="#e9a75e" stroke-width="0.6"/>
<circle cx="268.4" cy="1057.99" r="3.6" fill="#f3b36b" stroke="#e9a75e" stroke-width="0.6"/>
<circle cx="261.77" cy="1065.15" r="3.6" fill="#f3b36b" stroke="#e9a75e" stroke-width="0.6"/>
<circle cx="263.56" cy="1065.42" r="3.6" fill="#f3b36b" stroke="#e9a75e" stroke-width="0.6"/>
<circle cx="270.97" cy="1056.1" r="3.6" fill="#f3b36b" stroke="#e9a75e" stroke-width="0.6"/>
<circle cx="264.36" cy="1068.78" r="3.6" fill="#f3b36b" stroke="#e9a75e" stroke-width="0.6"/>
<circle cx="268.11" cy="1050.91" r="3.6" fill="#f3b36b" stroke="#e9a75e" stroke-width="0.6"/>
<circle cx="261.17" cy="1050.48" r="3.6" fill="#f3b36b" stroke="#e9a75e" stroke-width="0.6"/>
<circle cx="270.2" cy="1065.55" r="3.6" fill="#f3b36b" stroke="#e9a75e" stroke-width="0.6"/>
<circle cx="261.4" cy="1066.01" r="3.6" fill="#f3b36b" stroke="#e9a75e" stroke-width="0.6"/>
<circle cx="271.07" cy="1062.12" r="3.6" fill="#f3b36b" stroke="#e9a75e" stroke-width="0.6"/>
<circle cx="263.76" cy="1059.62" r="3.6" fill="#f3b36b" stroke="#e9a75e" stroke-width="0.6"/>
<circle cx="261.22" cy="1047.33" r="3.6" fill="#f3b36b" stroke="#e9a75e" stroke-width="0.6"/>
<circle cx="270.96" cy="1061.94" r="3.6" fill="#f3b36b" stroke="#e9a75e" stroke-width="0.6"/>
<circle cx="265.81" cy="1068.47" r="3.6" fill="#f3b36b" stroke="#e9a75e" stroke-width="0.6"/>
<circle cx="264.73" cy="1067.05" r="3.6" fill="#f3b36b" stroke="#e9a75e" stroke-width="0.6"/>
<circle cx="269.28" cy="1051.85" r="3.6" fill="#f3b36b" stroke="#e9a75e" stroke-width="0.6"/>
<circle cx="262.62" cy="1053.74" r="3.6" fill="#f3b36b" stroke="#e9a75e" stroke-width="0.6"/>
<circle cx="262.49" cy="1060.49" r="3.6" fill="#f3b36b" stroke="#e9a75e" stroke-width="0.6"/>
<circle cx="262.71" cy="1056.64" r="3.6" fill="#f3b36b" stroke="#e9a75e" stroke-width="0.6"/>
<circle cx="261.22" cy="1067.93" r="3.6" fill="#f3b36b" stroke="#e9a75e" stroke-width="0.6"/>
<circle cx="263.8" cy="1057.54" r="3.6" fill="#f3b36b" stroke="#e9a75e" stroke-width="0.6"/>
<circle cx="266.47" cy="1067.8" r="3.6" fill="#f3b36b" stroke="#e9a75e" stroke-width="0.6"/>
<circle cx="264.58" cy="1068.11" r="3.6" fill="#f3b36b" stroke="#e9a75e" stroke-width="0.6"/>
<circle cx="265.52" cy="1059.23" r="3.6" fill="#f3b36b" stroke="#e9a75e" stroke-width="0.6"/>
<circle cx="265.77" cy="1047.43" r="3.6" fill="#f3b36b" stroke="#e9a75e" stroke-width="0.6"/>
<circle cx="264.81" cy="1051.21" r="3.6" fill="#f3b36b" stroke="#e9a75e" stroke-width="0.6"/>
<circle cx="259.75" cy="1065.38" r="3.6" fill="#f3b36b" stroke="#e9a75e" stroke-width="0.6"/>
<circle cx="261.7" cy="1057.89" r="3.6" fill="#f3b36b" stroke="#e9a75e" stroke-width="0.6"/>
<circle cx="268.11" cy="1059.8" r="3.6" fill="#f3b36b" stroke="#e9a75e" stroke-width="0.6"/>
<circle cx="263.48" cy="1058.92" r="3.6" fill="#f3b36b" stroke="#e9a75e" stroke-width="0.6"/>
<circle cx="266.14" cy="1065.04" r="3.6" fill="#f3b36b" stroke="#e9a75e" stroke-width="0.6"/>
<circle cx="260.93" cy="1059.89" r="3.6" fill="#f3b36b" stroke="#e9a75e" stroke-width="0.6"/>
<circle cx="262.58" cy="1053.37" r="3.6" fill="#f3b36b" stroke="#e9a75e" stroke-width="0.6"/>
<circle cx="268.66" cy="1058.68" r="3.6" fill="#f3b36b" stroke="#e9a75e" stroke-width="0.6"/>
<circle cx="266.22" cy="1064.48" r="3.6" fill="#f3b36b" stroke="#e9a75e" stroke-width="0.6"/>
<circle cx="270.28" cy="1057.19" r="3.6" fill="#f3b36b" stroke="#e9a75e" stroke-width="0.6"/>
<circle cx="266.81" cy="1058.63" r="3.6" fill="#f3b36b" stroke="#e9a75e" stroke-width="0.6"/>
<circle cx="265.64" cy="1062.93" r="3.6" fill="#f3b36b" stroke="#e9a75e" stroke-width="0.6"/>
<circle cx="264.95" cy="1059.27" r="3.6" fill="#f3b36b" stroke="#e9a75e" stroke-width="0.6"/>
<circle cx="265.27" cy="1077.42" r="3.6" fill="#f3b36b" stroke="#e9a75e" stroke-width="0.6"/>
<circle cx="267.57" cy="1076.77" r="3.6" fill="#f3b36b" stroke="#e9a75e" stroke-width="0.6"/>
<circle cx="270.1" cy="1070.6" r="3.6" fill="#f3b36b" stroke="#e9a75e" stroke-width="0.6"/>
<circle cx="266.12" cy="1077.43" r="3.6" fill="#f3b36b" stroke="#e9a75e" stroke-width="0.6"/>
<circle cx="269.04" cy="1069.37" r="3.6" fill="#f3b36b" stroke="#e9a75e" stroke-width="0.6"/>
<circle cx="261.56" cy="1072.42" r="3.6" fill="#f3b36b" stroke="#e9a75e" stroke-width="0.6"/>
<circle cx="261.05" cy="1070.41" r="3.6" fill="#f3b36b" stroke="#e9a75e" stroke-width="0.6"/>
<circle cx="261.06" cy="1074.69" r="3.6" fill="#f3b36b" stroke="#e9a75e" stroke-width="0.6"/>
<circle cx="268.45" cy="1076.97" r="3.6" fill="#f3b36b" stroke="#e9a75e" stroke-width="0.6"/>
<circle cx="261.91" cy="1075.16" r="3.6" fill="#f3b36b" stroke="#e9a75e" stroke-width="0.6"/>
<circle cx="267.17" cy="1069.43" r="3.6" fill="#f3b36b" stroke="#e9a75e" stroke-width="0.6"/>
<circle cx="269.48" cy="1077.68" r="3.6" fill="#f3b36b" stroke="#e9a75e" stroke-width="0.6"/>
<circle cx="262.58" cy="1077.53" r="3.6" fill="#f3b36b" stroke="#e9a75e" stroke-width="0.6"/>
<circle cx="264.44" cy="1072.87" r="3.6" fill="#f3b36b" stroke="#e9a75e" stroke-width="0.6"/>
<line x1="110.5" y1="1038" x2="162.3" y2="1038" stroke="#1a1a1a" stroke-width="1.4" stroke-opacity="0.88"/>
<line x1="110.5" y1="1042" x2="162.3" y2="1042" stroke="#000" stroke-width="2" stroke-opacity="0.9"/>
<line x1="110.5" y1="1045.8" x2="162.3" y2="1045.8" stroke="#1a1a1a" stroke-width="1.4" stroke-opacity="0.88"/>
<line x1="239.7" y1="1044.6" x2="291.5" y2="1044.6" stroke="#1a1a1a" stroke-width="1.4" stroke-opacity="0.88"/>
<line x1="239.7" y1="1047.8" x2="291.5" y2="1047.8" stroke="#000" stroke-width="2" stroke-opacity="0.9"/>
<line x1="239.7" y1="1050.7" x2="291.5" y2="1050.7" stroke="#1a1a1a" stroke-width="1.4" stroke-opacity="0.88"/>
<rect x="71.8" y="629" width="258.6" height="486.2" fill="none" stroke="#222" stroke-width="2"/>
<line x1="136.4" y1="1115.2" x2="136.4" y2="1109.2" stroke="#222" stroke-width="2"/>
<line x1="136.4" y1="629" x2="136.4" y2="635" stroke="#222" stroke-width="2"/>
<line x1="265.6" y1="1115.2" x2="265.6" y2="1109.2" stroke="#222" stroke-width="2"/>
<line x1="265.6" y1="629" x2="265.6" y2="635" stroke="#222" stroke-width="2"/>
<line x1="71.8" y1="1061.18" x2="77.8" y2="1061.18" stroke="#222" stroke-width="2"/>
<line x1="330.4" y1="1061.18" x2="324.4" y2="1061.18" stroke="#222" stroke-width="2"/>
<line x1="71.8" y1="1007.16" x2="77.8" y2="1007.16" stroke="#222" stroke-width="2"/>
<line x1="330.4" y1="1007.16" x2="324.4" y2="1007.16" stroke="#222" stroke-width="2"/>
<line x1="71.8" y1="953.13" x2="77.8" y2="953.13" stroke="#222" stroke-width="2"/>
<line x1="330.4" y1="953.13" x2="324.4" y2="953.13" stroke="#222" stroke-width="2"/>
<line x1="71.8" y1="899.11" x2="77.8" y2="899.11" stroke="#222" stroke-width="2"/>
<line x1="330.4" y1="899.11" x2="324.4" y2="899.11" stroke="#222" stroke-width="2"/>
<line x1="71.8" y1="845.09" x2="77.8" y2="845.09" stroke="#222" stroke-width="2"/>
<line x1="330.4" y1="845.09" x2="324.4" y2="845.09" stroke="#222" stroke-width="2"/>
<line x1="71.8" y1="791.07" x2="77.8" y2="791.07" stroke="#222" stroke-width="2"/>
<line x1="330.4" y1="791.07" x2="324.4" y2="791.07" stroke="#222" stroke-width="2"/>
<line x1="71.8" y1="737.04" x2="77.8" y2="737.04" stroke="#222" stroke-width="2"/>
<line x1="330.4" y1="737.04" x2="324.4" y2="737.04" stroke="#222" stroke-width="2"/>
<line x1="71.8" y1="683.02" x2="77.8" y2="683.02" stroke="#222" stroke-width="2"/>
<line x1="330.4" y1="683.02" x2="324.4" y2="683.02" stroke="#222" stroke-width="2"/>
<text x="67.9" y="1070.08" font-size="24" text-anchor="end" fill="#1a1a1a">0</text>
<text x="67.9" y="962.03" font-size="24" text-anchor="end" fill="#1a1a1a">200</text>
<text x="67.9" y="853.99" font-size="24" text-anchor="end" fill="#1a1a1a">400</text>
<text x="67.9" y="745.94" font-size="24" text-anchor="end" fill="#1a1a1a">600</text>
<text x="67.9" y="637.9" font-size="24" text-anchor="end" fill="#1a1a1a">800</text>
<text x="135.9" y="1145.8" font-size="24" text-anchor="middle" fill="#1a1a1a">Pref</text>
<text x="265.1" y="1145.8" font-size="24" text-anchor="middle" fill="#1a1a1a">NonPref</text>
<text x="194.7" y="1182.3" font-size="26.3" text-anchor="middle" fill="#1a1a1a">Trial type</text>
<polyline points="135,667.8 135,656.1 261.4,656.1 261.4,667.8" fill="none" stroke="#000" stroke-width="2"/>
<text x="196.85" y="659.7" font-size="24.5" text-anchor="middle" fill="#000" stroke="#000" stroke-width="0.45">*</text>
<text x="118.7" y="702" font-size="24.5" text-anchor="middle" fill="#000" stroke="#000" stroke-width="0.45">*</text>
<text x="130.3" y="702" font-size="24.5" text-anchor="middle" fill="#000" stroke="#000" stroke-width="0.45">*</text>
<text x="141.9" y="702" font-size="24.5" text-anchor="middle" fill="#000" stroke="#000" stroke-width="0.45">*</text>
<text x="244.5" y="703.1" font-size="24.5" text-anchor="middle" fill="#000" stroke="#000" stroke-width="0.45">*</text>
<text x="256.1" y="703.1" font-size="24.5" text-anchor="middle" fill="#000" stroke="#000" stroke-width="0.45">*</text>
<text x="267.7" y="703.1" font-size="24.5" text-anchor="middle" fill="#000" stroke="#000" stroke-width="0.45">*</text>
<g stroke="#858585" stroke-width="1.1">
<line x1="522.2" y1="710" x2="586.6" y2="895.2"/>
<line x1="522.2" y1="910.3" x2="586.6" y2="995.7"/>
<line x1="522.2" y1="1003.5" x2="586.6" y2="917.3"/>
<line x1="522.2" y1="1016.3" x2="586.6" y2="984.4"/>
<line x1="522.2" y1="1009.7" x2="586.6" y2="1002.7"/>
<line x1="522.2" y1="989.5" x2="586.6" y2="1012"/>
<line x1="522.2" y1="1013.3" x2="586.6" y2="1020"/>
<line x1="522.2" y1="1021.7" x2="586.6" y2="1012.4"/>
<line x1="522.2" y1="1020" x2="586.6" y2="1027"/>
<line x1="522.2" y1="1025" x2="586.6" y2="1011"/>
<line x1="522.2" y1="1024" x2="586.6" y2="1022"/>
<line x1="522.2" y1="1043.56" x2="586.6" y2="1066.28"/>
<line x1="522.2" y1="1071.38" x2="586.6" y2="1069.66"/>
<line x1="522.2" y1="1038.77" x2="586.6" y2="1037.1"/>
<line x1="522.2" y1="1052.58" x2="586.6" y2="1040.55"/>
<line x1="522.2" y1="1038.28" x2="586.6" y2="1033.58"/>
<line x1="522.2" y1="1041.69" x2="586.6" y2="1038.08"/>
<line x1="522.2" y1="1047.32" x2="586.6" y2="1038.46"/>
<line x1="522.2" y1="1048.46" x2="586.6" y2="1055.83"/>
<line x1="522.2" y1="1060.63" x2="586.6" y2="1059.07"/>
<line x1="522.2" y1="1050.79" x2="586.6" y2="1035.3"/>
<line x1="522.2" y1="1080.84" x2="586.6" y2="1083"/>
<line x1="522.2" y1="1051.1" x2="586.6" y2="1055.92"/>
<line x1="522.2" y1="1043.57" x2="586.6" y2="1056.92"/>
<line x1="522.2" y1="1034.28" x2="586.6" y2="1041"/>
<line x1="522.2" y1="1072.56" x2="586.6" y2="1068.54"/>
<line x1="522.2" y1="1053.09" x2="586.6" y2="1060.72"/>
<line x1="522.2" y1="1041.64" x2="586.6" y2="1034.41"/>
<line x1="522.2" y1="1034.7" x2="586.6" y2="1033"/>
<line x1="522.2" y1="1076.76" x2="586.6" y2="1074.39"/>
<line x1="522.2" y1="1038.18" x2="586.6" y2="1033"/>
<line x1="522.2" y1="1057.71" x2="586.6" y2="1052.21"/>
<line x1="522.2" y1="1040.86" x2="586.6" y2="1038.03"/>
<line x1="522.2" y1="1077.5" x2="586.6" y2="1083"/>
<line x1="522.2" y1="1039.11" x2="586.6" y2="1033"/>
<line x1="522.2" y1="1079.44" x2="586.6" y2="1082.31"/>
<line x1="522.2" y1="1043.28" x2="586.6" y2="1057.94"/>
<line x1="522.2" y1="1079.85" x2="586.6" y2="1083"/>
<line x1="522.2" y1="1056.69" x2="586.6" y2="1076.54"/>
<line x1="522.2" y1="1052.23" x2="586.6" y2="1059.16"/>
<line x1="522.2" y1="1076.5" x2="586.6" y2="1066"/>
<line x1="522.2" y1="1041.53" x2="586.6" y2="1033"/>
<line x1="522.2" y1="1070.93" x2="586.6" y2="1073.89"/>
<line x1="522.2" y1="1073.78" x2="586.6" y2="1083"/>
<line x1="522.2" y1="1072.97" x2="586.6" y2="1077.04"/>
<line x1="522.2" y1="1052.79" x2="586.6" y2="1058.75"/>
<line x1="522.2" y1="1058.34" x2="586.6" y2="1055.46"/>
<line x1="522.2" y1="1045.61" x2="586.6" y2="1048.43"/>
<line x1="522.2" y1="1068.07" x2="586.6" y2="1071.33"/>
<line x1="522.2" y1="1060.43" x2="586.6" y2="1059.55"/>
<line x1="522.2" y1="1069.6" x2="586.6" y2="1083"/>
<line x1="522.2" y1="1039.53" x2="586.6" y2="1042.96"/>
<line x1="522.2" y1="1062.18" x2="586.6" y2="1050.96"/>
<line x1="522.2" y1="1048.39" x2="586.6" y2="1044.4"/>
<line x1="522.2" y1="1053.74" x2="586.6" y2="1045.77"/>
<line x1="522.2" y1="1064.97" x2="586.6" y2="1061.24"/>
<line x1="522.2" y1="1055" x2="586.6" y2="1053.53"/>
<line x1="522.2" y1="1063.09" x2="586.6" y2="1064.68"/>
<line x1="522.2" y1="1057.01" x2="586.6" y2="1058.89"/>
<line x1="522.2" y1="1070.66" x2="586.6" y2="1083"/>
<line x1="522.2" y1="1055.54" x2="586.6" y2="1060.28"/>
<line x1="522.2" y1="1039.03" x2="586.6" y2="1047.56"/>
<line x1="522.2" y1="1040.04" x2="586.6" y2="1035.84"/>
<line x1="522.2" y1="1054.77" x2="586.6" y2="1056.77"/>
<line x1="522.2" y1="1057.98" x2="586.6" y2="1070.89"/>
<line x1="522.2" y1="1037.87" x2="586.6" y2="1040.36"/>
<line x1="522.2" y1="1068.47" x2="586.6" y2="1071.54"/>
<line x1="522.2" y1="1036.55" x2="586.6" y2="1033"/>
<line x1="522.2" y1="1057.68" x2="586.6" y2="1042.29"/>
<line x1="522.2" y1="1040.4" x2="586.6" y2="1055.15"/>
<line x1="522.2" y1="1074.28" x2="586.6" y2="1083"/>
<line x1="522.2" y1="1072.3" x2="586.6" y2="1073.39"/>
<line x1="522.2" y1="1043.1" x2="586.6" y2="1053.09"/>
<line x1="522.2" y1="1078.96" x2="586.6" y2="1079.63"/>
<line x1="522.2" y1="1077.05" x2="586.6" y2="1083"/>
<line x1="522.2" y1="1077.74" x2="586.6" y2="1083"/>
<line x1="522.2" y1="1037.08" x2="586.6" y2="1033"/>
<line x1="522.2" y1="1041.46" x2="586.6" y2="1053.12"/>
<line x1="522.2" y1="1076.14" x2="586.6" y2="1075.24"/>
<line x1="522.2" y1="1040.75" x2="586.6" y2="1056.53"/>
<line x1="522.2" y1="1057.6" x2="586.6" y2="1063.5"/>
<line x1="522.2" y1="1046.35" x2="586.6" y2="1043.18"/>
<line x1="522.2" y1="1057.78" x2="586.6" y2="1057.26"/>
<line x1="522.2" y1="1042.56" x2="586.6" y2="1044.34"/>
<line x1="522.2" y1="1041.58" x2="586.6" y2="1053.57"/>
<line x1="522.2" y1="1076.08" x2="586.6" y2="1072.49"/>
<line x1="522.2" y1="1041.93" x2="586.6" y2="1042.4"/>
<line x1="522.2" y1="1058.94" x2="586.6" y2="1055.19"/>
<line x1="522.2" y1="1063.91" x2="586.6" y2="1053.18"/>
<line x1="522.2" y1="1060.09" x2="586.6" y2="1074.86"/>
<line x1="522.2" y1="1061.26" x2="586.6" y2="1065.13"/>
<line x1="522.2" y1="1080.67" x2="586.6" y2="1079.8"/>
<line x1="522.2" y1="1063.6" x2="586.6" y2="1051.82"/>
<line x1="522.2" y1="1046.44" x2="586.6" y2="1056.16"/>
<line x1="522.2" y1="1080.55" x2="586.6" y2="1075"/>
<line x1="522.2" y1="1069.94" x2="586.6" y2="1067.26"/>
<line x1="522.2" y1="1054.79" x2="586.6" y2="1061.71"/>
<line x1="522.2" y1="1036.27" x2="586.6" y2="1048.72"/>
<line x1="522.2" y1="1072.53" x2="586.6" y2="1073.7"/>
<line x1="522.2" y1="1080.25" x2="586.6" y2="1083"/>
<line x1="522.2" y1="1061.54" x2="586.6" y2="1058.27"/>
<line x1="522.2" y1="1034.08" x2="586.6" y2="1033"/>
<line x1="522.2" y1="1035.59" x2="586.6" y2="1042.05"/>
<line x1="522.2" y1="1054.31" x2="586.6" y2="1064.66"/>
<line x1="522.2" y1="1058.1" x2="586.6" y2="1062.43"/>
<line x1="522.2" y1="1044.68" x2="586.6" y2="1041.44"/>
<line x1="522.2" y1="1064.7" x2="586.6" y2="1066.3"/>
<line x1="522.2" y1="1050.68" x2="586.6" y2="1050.84"/>
<line x1="522.2" y1="1039" x2="586.6" y2="1034.32"/>
<line x1="522.2" y1="1061.43" x2="586.6" y2="1067.19"/>
<line x1="522.2" y1="1061.69" x2="586.6" y2="1066.03"/>
<line x1="522.2" y1="1056.32" x2="586.6" y2="1068.81"/>
<line x1="522.2" y1="1040.33" x2="586.6" y2="1045.94"/>
<line x1="522.2" y1="1041.02" x2="586.6" y2="1037.86"/>
<line x1="522.2" y1="1038.5" x2="586.6" y2="1033"/>
<line x1="522.2" y1="1070.76" x2="586.6" y2="1058.2"/>
<line x1="522.2" y1="1052.89" x2="586.6" y2="1052.98"/>
<line x1="522.2" y1="1064.31" x2="586.6" y2="1066.61"/>
<line x1="522.2" y1="1060.43" x2="586.6" y2="1053.47"/>
<line x1="522.2" y1="1054.86" x2="586.6" y2="1065.66"/>
<line x1="522.2" y1="1078.05" x2="586.6" y2="1079.15"/>
<line x1="522.2" y1="1076.46" x2="586.6" y2="1071.41"/>
<line x1="522.2" y1="1036.07" x2="586.6" y2="1033"/>
<line x1="522.2" y1="1045.17" x2="586.6" y2="1043.08"/>
<line x1="522.2" y1="1036.74" x2="586.6" y2="1036.17"/>
<line x1="522.2" y1="1059.89" x2="586.6" y2="1059.15"/>
<line x1="522.2" y1="1078.22" x2="586.6" y2="1083"/>
<line x1="522.2" y1="1062.58" x2="586.6" y2="1068.08"/>
<line x1="522.2" y1="1057.83" x2="586.6" y2="1047.96"/>
<line x1="522.2" y1="1042.21" x2="586.6" y2="1033"/>
<line x1="522.2" y1="1048.54" x2="586.6" y2="1047.59"/>
<line x1="522.2" y1="1032.9" x2="586.6" y2="1039.9"/>
<line x1="522.2" y1="1029.92" x2="586.6" y2="1033.68"/>
<line x1="522.2" y1="1031.64" x2="586.6" y2="1034.54"/>
<line x1="522.2" y1="1028.87" x2="586.6" y2="1016.8"/>
<line x1="522.2" y1="1020.67" x2="586.6" y2="1028.23"/>
<line x1="522.2" y1="1014.33" x2="586.6" y2="1024.06"/>
<line x1="522.2" y1="1009.09" x2="586.6" y2="1017.55"/>
<line x1="522.2" y1="1017.39" x2="586.6" y2="1021.36"/>
<line x1="522.2" y1="1031.67" x2="586.6" y2="1020.26"/>
<line x1="522.2" y1="1027.93" x2="586.6" y2="1030.65"/>
<line x1="522.2" y1="1020.21" x2="586.6" y2="1036.85"/>
<line x1="522.2" y1="1030.08" x2="586.6" y2="1026.31"/>
<line x1="522.2" y1="1025.98" x2="586.6" y2="1028.83"/>
<line x1="522.2" y1="1035.02" x2="586.6" y2="1040"/>
<line x1="522.2" y1="1082" x2="586.6" y2="1088"/>
<line x1="522.2" y1="1084" x2="586.6" y2="1086"/>
<line x1="522.2" y1="1086" x2="586.6" y2="1096"/>
<line x1="522.2" y1="1080" x2="586.6" y2="1090"/>
</g>
<circle cx="493.5" cy="710" r="3.6" fill="#2e87ad" stroke="#2a7ea3" stroke-width="0.6"/>
<circle cx="490.4" cy="910.3" r="3.6" fill="#2e87ad" stroke="#2a7ea3" stroke-width="0.6"/>
<circle cx="487.1" cy="989.5" r="3.6" fill="#2e87ad" stroke="#2a7ea3" stroke-width="0.6"/>
<circle cx="496.7" cy="1003.3" r="3.6" fill="#2e87ad" stroke="#2a7ea3" stroke-width="0.6"/>
<circle cx="495.1" cy="1010" r="3.6" fill="#2e87ad" stroke="#2a7ea3" stroke-width="0.6"/>
<circle cx="486.9" cy="1013.1" r="3.6" fill="#2e87ad" stroke="#2a7ea3" stroke-width="0.6"/>
<circle cx="488" cy="1016" r="3.6" fill="#2e87ad" stroke="#2a7ea3" stroke-width="0.6"/>
<circle cx="494.5" cy="1020.2" r="3.6" fill="#2e87ad" stroke="#2a7ea3" stroke-width="0.6"/>
<circle cx="494" cy="1025" r="3.6" fill="#2e87ad" stroke="#2a7ea3" stroke-width="0.6"/>
<circle cx="484.1" cy="1024.7" r="3.6" fill="#2e87ad" stroke="#2a7ea3" stroke-width="0.6"/>
<circle cx="485.3" cy="1085.8" r="3.6" fill="#2e87ad" stroke="#2a7ea3" stroke-width="0.6"/>
<circle cx="491.5" cy="1084.2" r="3.6" fill="#2e87ad" stroke="#2a7ea3" stroke-width="0.6"/>
<circle cx="484.7" cy="1089" r="3.6" fill="#2e87ad" stroke="#2a7ea3" stroke-width="0.6"/>
<circle cx="485.4" cy="1033.24" r="3.6" fill="#2e87ad" stroke="#2a7ea3" stroke-width="0.6"/>
<circle cx="488.36" cy="1026.44" r="3.6" fill="#2e87ad" stroke="#2a7ea3" stroke-width="0.6"/>
<circle cx="489.51" cy="1034.92" r="3.6" fill="#2e87ad" stroke="#2a7ea3" stroke-width="0.6"/>
<circle cx="488.26" cy="1033.34" r="3.6" fill="#2e87ad" stroke="#2a7ea3" stroke-width="0.6"/>
<circle cx="489.37" cy="1027.39" r="3.6" fill="#2e87ad" stroke="#2a7ea3" stroke-width="0.6"/>
<circle cx="487.64" cy="1031.04" r="3.6" fill="#2e87ad" stroke="#2a7ea3" stroke-width="0.6"/>
<circle cx="489.51" cy="1034.05" r="3.6" fill="#2e87ad" stroke="#2a7ea3" stroke-width="0.6"/>
<circle cx="489.46" cy="1031.84" r="3.6" fill="#2e87ad" stroke="#2a7ea3" stroke-width="0.6"/>
<circle cx="489.86" cy="1032.83" r="3.6" fill="#2e87ad" stroke="#2a7ea3" stroke-width="0.6"/>
<circle cx="488.66" cy="1028.3" r="3.6" fill="#2e87ad" stroke="#2a7ea3" stroke-width="0.6"/>
<circle cx="485.12" cy="1036.13" r="3.6" fill="#2e87ad" stroke="#2a7ea3" stroke-width="0.6"/>
<circle cx="488.55" cy="1035.68" r="3.6" fill="#2e87ad" stroke="#2a7ea3" stroke-width="0.6"/>
<circle cx="493.49" cy="1042.94" r="3.6" fill="#2e87ad" stroke="#2a7ea3" stroke-width="0.6"/>
<circle cx="491.33" cy="1044.02" r="3.6" fill="#2e87ad" stroke="#2a7ea3" stroke-width="0.6"/>
<circle cx="491.88" cy="1041.83" r="3.6" fill="#2e87ad" stroke="#2a7ea3" stroke-width="0.6"/>
<circle cx="484.83" cy="1046.76" r="3.6" fill="#2e87ad" stroke="#2a7ea3" stroke-width="0.6"/>
<circle cx="492.58" cy="1042.05" r="3.6" fill="#2e87ad" stroke="#2a7ea3" stroke-width="0.6"/>
<circle cx="490.37" cy="1044.55" r="3.6" fill="#2e87ad" stroke="#2a7ea3" stroke-width="0.6"/>
<circle cx="485.49" cy="1045.79" r="3.6" fill="#2e87ad" stroke="#2a7ea3" stroke-width="0.6"/>
<circle cx="487.42" cy="1035.19" r="3.6" fill="#2e87ad" stroke="#2a7ea3" stroke-width="0.6"/>
<circle cx="487.56" cy="1045.67" r="3.6" fill="#2e87ad" stroke="#2a7ea3" stroke-width="0.6"/>
<circle cx="486.93" cy="1045.84" r="3.6" fill="#2e87ad" stroke="#2a7ea3" stroke-width="0.6"/>
<circle cx="494.95" cy="1041.9" r="3.6" fill="#2e87ad" stroke="#2a7ea3" stroke-width="0.6"/>
<circle cx="488.78" cy="1041.66" r="3.6" fill="#2e87ad" stroke="#2a7ea3" stroke-width="0.6"/>
<circle cx="491.91" cy="1046.27" r="3.6" fill="#2e87ad" stroke="#2a7ea3" stroke-width="0.6"/>
<circle cx="491.22" cy="1044.28" r="3.6" fill="#2e87ad" stroke="#2a7ea3" stroke-width="0.6"/>
<circle cx="485.61" cy="1036.36" r="3.6" fill="#2e87ad" stroke="#2a7ea3" stroke-width="0.6"/>
<circle cx="487.44" cy="1045.89" r="3.6" fill="#2e87ad" stroke="#2a7ea3" stroke-width="0.6"/>
<circle cx="487.97" cy="1043.08" r="3.6" fill="#2e87ad" stroke="#2a7ea3" stroke-width="0.6"/>
<circle cx="484.93" cy="1034.97" r="3.6" fill="#2e87ad" stroke="#2a7ea3" stroke-width="0.6"/>
<circle cx="487.6" cy="1044.75" r="3.6" fill="#2e87ad" stroke="#2a7ea3" stroke-width="0.6"/>
<circle cx="492" cy="1044.81" r="3.6" fill="#2e87ad" stroke="#2a7ea3" stroke-width="0.6"/>
<circle cx="487.82" cy="1042.26" r="3.6" fill="#2e87ad" stroke="#2a7ea3" stroke-width="0.6"/>
<circle cx="489.63" cy="1041.46" r="3.6" fill="#2e87ad" stroke="#2a7ea3" stroke-width="0.6"/>
<circle cx="486.03" cy="1048.3" r="3.6" fill="#2e87ad" stroke="#2a7ea3" stroke-width="0.6"/>
<circle cx="486.87" cy="1049.65" r="3.6" fill="#2e87ad" stroke="#2a7ea3" stroke-width="0.6"/>
<circle cx="494.54" cy="1034.28" r="3.6" fill="#2e87ad" stroke="#2a7ea3" stroke-width="0.6"/>
<circle cx="489.57" cy="1047.12" r="3.6" fill="#2e87ad" stroke="#2a7ea3" stroke-width="0.6"/>
<circle cx="494.87" cy="1041.19" r="3.6" fill="#2e87ad" stroke="#2a7ea3" stroke-width="0.6"/>
<circle cx="487.59" cy="1037.36" r="3.6" fill="#2e87ad" stroke="#2a7ea3" stroke-width="0.6"/>
<circle cx="495.67" cy="1054.74" r="3.6" fill="#2e87ad" stroke="#2a7ea3" stroke-width="0.6"/>
<circle cx="491.45" cy="1052.54" r="3.6" fill="#2e87ad" stroke="#2a7ea3" stroke-width="0.6"/>
<circle cx="490.78" cy="1078.49" r="3.6" fill="#2e87ad" stroke="#2a7ea3" stroke-width="0.6"/>
<circle cx="486.24" cy="1074.25" r="3.6" fill="#2e87ad" stroke="#2a7ea3" stroke-width="0.6"/>
<circle cx="490.6" cy="1076.38" r="3.6" fill="#2e87ad" stroke="#2a7ea3" stroke-width="0.6"/>
<circle cx="492.86" cy="1055.4" r="3.6" fill="#2e87ad" stroke="#2a7ea3" stroke-width="0.6"/>
<circle cx="495.11" cy="1063.56" r="3.6" fill="#2e87ad" stroke="#2a7ea3" stroke-width="0.6"/>
<circle cx="484.99" cy="1048.11" r="3.6" fill="#2e87ad" stroke="#2a7ea3" stroke-width="0.6"/>
<circle cx="490.4" cy="1062.42" r="3.6" fill="#2e87ad" stroke="#2a7ea3" stroke-width="0.6"/>
<circle cx="488.2" cy="1052.5" r="3.6" fill="#2e87ad" stroke="#2a7ea3" stroke-width="0.6"/>
<circle cx="488.69" cy="1058.11" r="3.6" fill="#2e87ad" stroke="#2a7ea3" stroke-width="0.6"/>
<circle cx="494.45" cy="1048.06" r="3.6" fill="#2e87ad" stroke="#2a7ea3" stroke-width="0.6"/>
<circle cx="493.41" cy="1074.85" r="3.6" fill="#2e87ad" stroke="#2a7ea3" stroke-width="0.6"/>
<circle cx="486.09" cy="1077.64" r="3.6" fill="#2e87ad" stroke="#2a7ea3" stroke-width="0.6"/>
<circle cx="492.97" cy="1076.85" r="3.6" fill="#2e87ad" stroke="#2a7ea3" stroke-width="0.6"/>
<circle cx="488.06" cy="1059.91" r="3.6" fill="#2e87ad" stroke="#2a7ea3" stroke-width="0.6"/>
<circle cx="489.26" cy="1079.96" r="3.6" fill="#2e87ad" stroke="#2a7ea3" stroke-width="0.6"/>
<circle cx="491.53" cy="1059.54" r="3.6" fill="#2e87ad" stroke="#2a7ea3" stroke-width="0.6"/>
<circle cx="489.67" cy="1056.8" r="3.6" fill="#2e87ad" stroke="#2a7ea3" stroke-width="0.6"/>
<circle cx="485.26" cy="1051.25" r="3.6" fill="#2e87ad" stroke="#2a7ea3" stroke-width="0.6"/>
<circle cx="494.38" cy="1057.14" r="3.6" fill="#2e87ad" stroke="#2a7ea3" stroke-width="0.6"/>
<circle cx="495.55" cy="1055.98" r="3.6" fill="#2e87ad" stroke="#2a7ea3" stroke-width="0.6"/>
<circle cx="487.78" cy="1064.35" r="3.6" fill="#2e87ad" stroke="#2a7ea3" stroke-width="0.6"/>
<circle cx="486.9" cy="1059.95" r="3.6" fill="#2e87ad" stroke="#2a7ea3" stroke-width="0.6"/>
<circle cx="495.79" cy="1076.3" r="3.6" fill="#2e87ad" stroke="#2a7ea3" stroke-width="0.6"/>
<circle cx="494.12" cy="1068.19" r="3.6" fill="#2e87ad" stroke="#2a7ea3" stroke-width="0.6"/>
<circle cx="495.3" cy="1078.1" r="3.6" fill="#2e87ad" stroke="#2a7ea3" stroke-width="0.6"/>
<circle cx="491.07" cy="1071.03" r="3.6" fill="#2e87ad" stroke="#2a7ea3" stroke-width="0.6"/>
<circle cx="485.27" cy="1071.44" r="3.6" fill="#2e87ad" stroke="#2a7ea3" stroke-width="0.6"/>
<circle cx="489.93" cy="1072.09" r="3.6" fill="#2e87ad" stroke="#2a7ea3" stroke-width="0.6"/>
<circle cx="492.18" cy="1057.16" r="3.6" fill="#2e87ad" stroke="#2a7ea3" stroke-width="0.6"/>
<circle cx="485.27" cy="1077.66" r="3.6" fill="#2e87ad" stroke="#2a7ea3" stroke-width="0.6"/>
<circle cx="486.18" cy="1063.11" r="3.6" fill="#2e87ad" stroke="#2a7ea3" stroke-width="0.6"/>
<circle cx="488.69" cy="1057.53" r="3.6" fill="#2e87ad" stroke="#2a7ea3" stroke-width="0.6"/>
<circle cx="493.27" cy="1079.24" r="3.6" fill="#2e87ad" stroke="#2a7ea3" stroke-width="0.6"/>
<circle cx="487.72" cy="1068.99" r="3.6" fill="#2e87ad" stroke="#2a7ea3" stroke-width="0.6"/>
<circle cx="488.19" cy="1065.83" r="3.6" fill="#2e87ad" stroke="#2a7ea3" stroke-width="0.6"/>
<circle cx="489.27" cy="1053.35" r="3.6" fill="#2e87ad" stroke="#2a7ea3" stroke-width="0.6"/>
<circle cx="486.58" cy="1054.65" r="3.6" fill="#2e87ad" stroke="#2a7ea3" stroke-width="0.6"/>
<circle cx="495.21" cy="1063.91" r="3.6" fill="#2e87ad" stroke="#2a7ea3" stroke-width="0.6"/>
<circle cx="487.25" cy="1077" r="3.6" fill="#2e87ad" stroke="#2a7ea3" stroke-width="0.6"/>
<circle cx="496.26" cy="1062.4" r="3.6" fill="#2e87ad" stroke="#2a7ea3" stroke-width="0.6"/>
<circle cx="486.32" cy="1054.16" r="3.6" fill="#2e87ad" stroke="#2a7ea3" stroke-width="0.6"/>
<circle cx="485.75" cy="1058.94" r="3.6" fill="#2e87ad" stroke="#2a7ea3" stroke-width="0.6"/>
<circle cx="485.76" cy="1055.65" r="3.6" fill="#2e87ad" stroke="#2a7ea3" stroke-width="0.6"/>
<circle cx="487.7" cy="1066.23" r="3.6" fill="#2e87ad" stroke="#2a7ea3" stroke-width="0.6"/>
<circle cx="494.99" cy="1071.99" r="3.6" fill="#2e87ad" stroke="#2a7ea3" stroke-width="0.6"/>
<circle cx="489.49" cy="1061.24" r="3.6" fill="#2e87ad" stroke="#2a7ea3" stroke-width="0.6"/>
<circle cx="490.78" cy="1060.06" r="3.6" fill="#2e87ad" stroke="#2a7ea3" stroke-width="0.6"/>
<circle cx="488.62" cy="1049.99" r="3.6" fill="#2e87ad" stroke="#2a7ea3" stroke-width="0.6"/>
<circle cx="487.92" cy="1078.97" r="3.6" fill="#2e87ad" stroke="#2a7ea3" stroke-width="0.6"/>
<circle cx="486.16" cy="1064.11" r="3.6" fill="#2e87ad" stroke="#2a7ea3" stroke-width="0.6"/>
<circle cx="492" cy="1075.61" r="3.6" fill="#2e87ad" stroke="#2a7ea3" stroke-width="0.6"/>
<circle cx="487.21" cy="1056.67" r="3.6" fill="#2e87ad" stroke="#2a7ea3" stroke-width="0.6"/>
<circle cx="487.58" cy="1060.79" r="3.6" fill="#2e87ad" stroke="#2a7ea3" stroke-width="0.6"/>
<circle cx="489.87" cy="1078.53" r="3.6" fill="#2e87ad" stroke="#2a7ea3" stroke-width="0.6"/>
<circle cx="494.54" cy="1075.93" r="3.6" fill="#2e87ad" stroke="#2a7ea3" stroke-width="0.6"/>
<circle cx="484.95" cy="1049.03" r="3.6" fill="#2e87ad" stroke="#2a7ea3" stroke-width="0.6"/>
<circle cx="492.93" cy="1076.66" r="3.6" fill="#2e87ad" stroke="#2a7ea3" stroke-width="0.6"/>
<circle cx="490.19" cy="1066.79" r="3.6" fill="#2e87ad" stroke="#2a7ea3" stroke-width="0.6"/>
<circle cx="484.7" cy="1060.53" r="3.6" fill="#2e87ad" stroke="#2a7ea3" stroke-width="0.6"/>
<circle cx="495.45" cy="1074.42" r="3.6" fill="#2e87ad" stroke="#2a7ea3" stroke-width="0.6"/>
<circle cx="494.62" cy="1079.11" r="3.6" fill="#2e87ad" stroke="#2a7ea3" stroke-width="0.6"/>
<circle cx="487.58" cy="1051.49" r="3.6" fill="#2e87ad" stroke="#2a7ea3" stroke-width="0.6"/>
<circle cx="486.49" cy="1064.72" r="3.6" fill="#2e87ad" stroke="#2a7ea3" stroke-width="0.6"/>
<circle cx="492.61" cy="1078.13" r="3.6" fill="#2e87ad" stroke="#2a7ea3" stroke-width="0.6"/>
<circle cx="493.07" cy="1068.72" r="3.6" fill="#2e87ad" stroke="#2a7ea3" stroke-width="0.6"/>
<circle cx="493.57" cy="1062.63" r="3.6" fill="#2e87ad" stroke="#2a7ea3" stroke-width="0.6"/>
<circle cx="491.1" cy="1049.27" r="3.6" fill="#2e87ad" stroke="#2a7ea3" stroke-width="0.6"/>
<circle cx="493.77" cy="1055.44" r="3.6" fill="#2e87ad" stroke="#2a7ea3" stroke-width="0.6"/>
<circle cx="615.1" cy="895.2" r="3.6" fill="#f3b36b" stroke="#e9a75e" stroke-width="0.6"/>
<circle cx="623.6" cy="917.3" r="3.6" fill="#f3b36b" stroke="#e9a75e" stroke-width="0.6"/>
<circle cx="617.3" cy="984.3" r="3.6" fill="#f3b36b" stroke="#e9a75e" stroke-width="0.6"/>
<circle cx="621.6" cy="995.8" r="3.6" fill="#f3b36b" stroke="#e9a75e" stroke-width="0.6"/>
<circle cx="618.9" cy="1002.5" r="3.6" fill="#f3b36b" stroke="#e9a75e" stroke-width="0.6"/>
<circle cx="619.8" cy="1012.5" r="3.6" fill="#f3b36b" stroke="#e9a75e" stroke-width="0.6"/>
<circle cx="624.2" cy="1011" r="3.6" fill="#f3b36b" stroke="#e9a75e" stroke-width="0.6"/>
<circle cx="617" cy="1022.3" r="3.6" fill="#f3b36b" stroke="#e9a75e" stroke-width="0.6"/>
<circle cx="612.5" cy="1027" r="3.6" fill="#f3b36b" stroke="#e9a75e" stroke-width="0.6"/>
<circle cx="625.5" cy="1027" r="3.6" fill="#f3b36b" stroke="#e9a75e" stroke-width="0.6"/>
<circle cx="623" cy="1086.5" r="3.6" fill="#f3b36b" stroke="#e9a75e" stroke-width="0.6"/>
<circle cx="627.5" cy="1088" r="3.6" fill="#f3b36b" stroke="#e9a75e" stroke-width="0.6"/>
<circle cx="620.5" cy="1095.5" r="3.6" fill="#f3b36b" stroke="#e9a75e" stroke-width="0.6"/>
<circle cx="623.84" cy="1063.57" r="3.6" fill="#f3b36b" stroke="#e9a75e" stroke-width="0.6"/>
<circle cx="617.18" cy="1036.65" r="3.6" fill="#f3b36b" stroke="#e9a75e" stroke-width="0.6"/>
<circle cx="616.62" cy="1063.09" r="3.6" fill="#f3b36b" stroke="#e9a75e" stroke-width="0.6"/>
<circle cx="621.44" cy="1035.83" r="3.6" fill="#f3b36b" stroke="#e9a75e" stroke-width="0.6"/>
<circle cx="614.66" cy="1057.27" r="3.6" fill="#f3b36b" stroke="#e9a75e" stroke-width="0.6"/>
<circle cx="620.2" cy="1050.18" r="3.6" fill="#f3b36b" stroke="#e9a75e" stroke-width="0.6"/>
<circle cx="616.31" cy="1061.26" r="3.6" fill="#f3b36b" stroke="#e9a75e" stroke-width="0.6"/>
<circle cx="614.01" cy="1045.68" r="3.6" fill="#f3b36b" stroke="#e9a75e" stroke-width="0.6"/>
<circle cx="618.88" cy="1079.86" r="3.6" fill="#f3b36b" stroke="#e9a75e" stroke-width="0.6"/>
<circle cx="620.86" cy="1075.96" r="3.6" fill="#f3b36b" stroke="#e9a75e" stroke-width="0.6"/>
<circle cx="619.03" cy="1042.21" r="3.6" fill="#f3b36b" stroke="#e9a75e" stroke-width="0.6"/>
<circle cx="616.57" cy="1079.95" r="3.6" fill="#f3b36b" stroke="#e9a75e" stroke-width="0.6"/>
<circle cx="621.51" cy="1045.98" r="3.6" fill="#f3b36b" stroke="#e9a75e" stroke-width="0.6"/>
<circle cx="614.14" cy="1055.91" r="3.6" fill="#f3b36b" stroke="#e9a75e" stroke-width="0.6"/>
<circle cx="621.18" cy="1051.84" r="3.6" fill="#f3b36b" stroke="#e9a75e" stroke-width="0.6"/>
<circle cx="616.68" cy="1064.7" r="3.6" fill="#f3b36b" stroke="#e9a75e" stroke-width="0.6"/>
<circle cx="623.89" cy="1041.79" r="3.6" fill="#f3b36b" stroke="#e9a75e" stroke-width="0.6"/>
<circle cx="614.27" cy="1047.58" r="3.6" fill="#f3b36b" stroke="#e9a75e" stroke-width="0.6"/>
<circle cx="618.44" cy="1065.49" r="3.6" fill="#f3b36b" stroke="#e9a75e" stroke-width="0.6"/>
<circle cx="616.04" cy="1071.45" r="3.6" fill="#f3b36b" stroke="#e9a75e" stroke-width="0.6"/>
<circle cx="621.88" cy="1056.25" r="3.6" fill="#f3b36b" stroke="#e9a75e" stroke-width="0.6"/>
<circle cx="616.12" cy="1080.43" r="3.6" fill="#f3b36b" stroke="#e9a75e" stroke-width="0.6"/>
<circle cx="617.27" cy="1072.64" r="3.6" fill="#f3b36b" stroke="#e9a75e" stroke-width="0.6"/>
<circle cx="616.39" cy="1041.52" r="3.6" fill="#f3b36b" stroke="#e9a75e" stroke-width="0.6"/>
<circle cx="622.11" cy="1045.34" r="3.6" fill="#f3b36b" stroke="#e9a75e" stroke-width="0.6"/>
<circle cx="624.18" cy="1055.78" r="3.6" fill="#f3b36b" stroke="#e9a75e" stroke-width="0.6"/>
<circle cx="615.92" cy="1041.61" r="3.6" fill="#f3b36b" stroke="#e9a75e" stroke-width="0.6"/>
<circle cx="618.4" cy="1064.6" r="3.6" fill="#f3b36b" stroke="#e9a75e" stroke-width="0.6"/>
<circle cx="624.15" cy="1037.61" r="3.6" fill="#f3b36b" stroke="#e9a75e" stroke-width="0.6"/>
<circle cx="618.15" cy="1041.07" r="3.6" fill="#f3b36b" stroke="#e9a75e" stroke-width="0.6"/>
<circle cx="624.42" cy="1037.38" r="3.6" fill="#f3b36b" stroke="#e9a75e" stroke-width="0.6"/>
<circle cx="614.46" cy="1033.13" r="3.6" fill="#f3b36b" stroke="#e9a75e" stroke-width="0.6"/>
<circle cx="618.15" cy="1076.7" r="3.6" fill="#f3b36b" stroke="#e9a75e" stroke-width="0.6"/>
<circle cx="623.44" cy="1068.1" r="3.6" fill="#f3b36b" stroke="#e9a75e" stroke-width="0.6"/>
<circle cx="624.67" cy="1078.44" r="3.6" fill="#f3b36b" stroke="#e9a75e" stroke-width="0.6"/>
<circle cx="617.46" cy="1039.65" r="3.6" fill="#f3b36b" stroke="#e9a75e" stroke-width="0.6"/>
<circle cx="624.01" cy="1068.81" r="3.6" fill="#f3b36b" stroke="#e9a75e" stroke-width="0.6"/>
<circle cx="614.24" cy="1064.55" r="3.6" fill="#f3b36b" stroke="#e9a75e" stroke-width="0.6"/>
<circle cx="617.99" cy="1049.44" r="3.6" fill="#f3b36b" stroke="#e9a75e" stroke-width="0.6"/>
<circle cx="617.48" cy="1038.8" r="3.6" fill="#f3b36b" stroke="#e9a75e" stroke-width="0.6"/>
<circle cx="613.93" cy="1044.55" r="3.6" fill="#f3b36b" stroke="#e9a75e" stroke-width="0.6"/>
<circle cx="617.7" cy="1079.69" r="3.6" fill="#f3b36b" stroke="#e9a75e" stroke-width="0.6"/>
<circle cx="615.24" cy="1080.14" r="3.6" fill="#f3b36b" stroke="#e9a75e" stroke-width="0.6"/>
<circle cx="616.14" cy="1048.54" r="3.6" fill="#f3b36b" stroke="#e9a75e" stroke-width="0.6"/>
<circle cx="622.77" cy="1072.74" r="3.6" fill="#f3b36b" stroke="#e9a75e" stroke-width="0.6"/>
<circle cx="618.57" cy="1032.56" r="3.6" fill="#f3b36b" stroke="#e9a75e" stroke-width="0.6"/>
<circle cx="619.01" cy="1049.38" r="3.6" fill="#f3b36b" stroke="#e9a75e" stroke-width="0.6"/>
<circle cx="623.83" cy="1040.04" r="3.6" fill="#f3b36b" stroke="#e9a75e" stroke-width="0.6"/>
<circle cx="617.83" cy="1076.64" r="3.6" fill="#f3b36b" stroke="#e9a75e" stroke-width="0.6"/>
<circle cx="614.23" cy="1051.36" r="3.6" fill="#f3b36b" stroke="#e9a75e" stroke-width="0.6"/>
<circle cx="622.67" cy="1069.87" r="3.6" fill="#f3b36b" stroke="#e9a75e" stroke-width="0.6"/>
<circle cx="614.34" cy="1031.81" r="3.6" fill="#f3b36b" stroke="#e9a75e" stroke-width="0.6"/>
<circle cx="614.58" cy="1077.84" r="3.6" fill="#f3b36b" stroke="#e9a75e" stroke-width="0.6"/>
<circle cx="616.68" cy="1068.86" r="3.6" fill="#f3b36b" stroke="#e9a75e" stroke-width="0.6"/>
<circle cx="623.6" cy="1047.63" r="3.6" fill="#f3b36b" stroke="#e9a75e" stroke-width="0.6"/>
<circle cx="616.84" cy="1079.8" r="3.6" fill="#f3b36b" stroke="#e9a75e" stroke-width="0.6"/>
<circle cx="620.56" cy="1043.63" r="3.6" fill="#f3b36b" stroke="#e9a75e" stroke-width="0.6"/>
<circle cx="621.64" cy="1046.46" r="3.6" fill="#f3b36b" stroke="#e9a75e" stroke-width="0.6"/>
<circle cx="616.88" cy="1030.2" r="3.6" fill="#f3b36b" stroke="#e9a75e" stroke-width="0.6"/>
<circle cx="622.06" cy="1077.66" r="3.6" fill="#f3b36b" stroke="#e9a75e" stroke-width="0.6"/>
<circle cx="620.75" cy="1079.05" r="3.6" fill="#f3b36b" stroke="#e9a75e" stroke-width="0.6"/>
<circle cx="614.16" cy="1042.16" r="3.6" fill="#f3b36b" stroke="#e9a75e" stroke-width="0.6"/>
<circle cx="619.03" cy="1079.75" r="3.6" fill="#f3b36b" stroke="#e9a75e" stroke-width="0.6"/>
<circle cx="624.2" cy="1050.1" r="3.6" fill="#f3b36b" stroke="#e9a75e" stroke-width="0.6"/>
<circle cx="616.61" cy="1052.36" r="3.6" fill="#f3b36b" stroke="#e9a75e" stroke-width="0.6"/>
<circle cx="619.23" cy="1078.26" r="3.6" fill="#f3b36b" stroke="#e9a75e" stroke-width="0.6"/>
<circle cx="615.88" cy="1071.73" r="3.6" fill="#f3b36b" stroke="#e9a75e" stroke-width="0.6"/>
<circle cx="621.88" cy="1072.78" r="3.6" fill="#f3b36b" stroke="#e9a75e" stroke-width="0.6"/>
<circle cx="622.25" cy="1061.58" r="3.6" fill="#f3b36b" stroke="#e9a75e" stroke-width="0.6"/>
<circle cx="617.44" cy="1046.62" r="3.6" fill="#f3b36b" stroke="#e9a75e" stroke-width="0.6"/>
<circle cx="617.81" cy="1070.68" r="3.6" fill="#f3b36b" stroke="#e9a75e" stroke-width="0.6"/>
<circle cx="614.75" cy="1040.26" r="3.6" fill="#f3b36b" stroke="#e9a75e" stroke-width="0.6"/>
<circle cx="622.03" cy="1042.86" r="3.6" fill="#f3b36b" stroke="#e9a75e" stroke-width="0.6"/>
<circle cx="614.6" cy="1031.76" r="3.6" fill="#f3b36b" stroke="#e9a75e" stroke-width="0.6"/>
<circle cx="619.87" cy="1046.94" r="3.6" fill="#f3b36b" stroke="#e9a75e" stroke-width="0.6"/>
<circle cx="624.49" cy="1075.94" r="3.6" fill="#f3b36b" stroke="#e9a75e" stroke-width="0.6"/>
<circle cx="624.57" cy="1043.77" r="3.6" fill="#f3b36b" stroke="#e9a75e" stroke-width="0.6"/>
<circle cx="614.81" cy="1035.01" r="3.6" fill="#f3b36b" stroke="#e9a75e" stroke-width="0.6"/>
<circle cx="619.28" cy="1066.91" r="3.6" fill="#f3b36b" stroke="#e9a75e" stroke-width="0.6"/>
<circle cx="618.73" cy="1042.18" r="3.6" fill="#f3b36b" stroke="#e9a75e" stroke-width="0.6"/>
<circle cx="618.4" cy="1062.26" r="3.6" fill="#f3b36b" stroke="#e9a75e" stroke-width="0.6"/>
<circle cx="621.18" cy="1068.89" r="3.6" fill="#f3b36b" stroke="#e9a75e" stroke-width="0.6"/>
<circle cx="623.05" cy="1064.55" r="3.6" fill="#f3b36b" stroke="#e9a75e" stroke-width="0.6"/>
<circle cx="615.21" cy="1073.73" r="3.6" fill="#f3b36b" stroke="#e9a75e" stroke-width="0.6"/>
<circle cx="617.07" cy="1059.48" r="3.6" fill="#f3b36b" stroke="#e9a75e" stroke-width="0.6"/>
<circle cx="617.93" cy="1068.38" r="3.6" fill="#f3b36b" stroke="#e9a75e" stroke-width="0.6"/>
<circle cx="616.05" cy="1042.87" r="3.6" fill="#f3b36b" stroke="#e9a75e" stroke-width="0.6"/>
<circle cx="616.55" cy="1037.97" r="3.6" fill="#f3b36b" stroke="#e9a75e" stroke-width="0.6"/>
<circle cx="623.45" cy="1060.07" r="3.6" fill="#f3b36b" stroke="#e9a75e" stroke-width="0.6"/>
<circle cx="617.42" cy="1050.6" r="3.6" fill="#f3b36b" stroke="#e9a75e" stroke-width="0.6"/>
<circle cx="624.62" cy="1056.38" r="3.6" fill="#f3b36b" stroke="#e9a75e" stroke-width="0.6"/>
<circle cx="616.4" cy="1072.04" r="3.6" fill="#f3b36b" stroke="#e9a75e" stroke-width="0.6"/>
<circle cx="620.96" cy="1081.53" r="3.6" fill="#f3b36b" stroke="#e9a75e" stroke-width="0.6"/>
<circle cx="615.01" cy="1054.69" r="3.6" fill="#f3b36b" stroke="#e9a75e" stroke-width="0.6"/>
<circle cx="622.75" cy="1073.71" r="3.6" fill="#f3b36b" stroke="#e9a75e" stroke-width="0.6"/>
<circle cx="623.78" cy="1032.1" r="3.6" fill="#f3b36b" stroke="#e9a75e" stroke-width="0.6"/>
<circle cx="617.07" cy="1036.2" r="3.6" fill="#f3b36b" stroke="#e9a75e" stroke-width="0.6"/>
<circle cx="615.95" cy="1080.59" r="3.6" fill="#f3b36b" stroke="#e9a75e" stroke-width="0.6"/>
<circle cx="620.2" cy="1078.37" r="3.6" fill="#f3b36b" stroke="#e9a75e" stroke-width="0.6"/>
<circle cx="617.92" cy="1075.04" r="3.6" fill="#f3b36b" stroke="#e9a75e" stroke-width="0.6"/>
<circle cx="618.75" cy="1043.52" r="3.6" fill="#f3b36b" stroke="#e9a75e" stroke-width="0.6"/>
<circle cx="622.3" cy="1079.18" r="3.6" fill="#f3b36b" stroke="#e9a75e" stroke-width="0.6"/>
<circle cx="615.04" cy="1061" r="3.6" fill="#f3b36b" stroke="#e9a75e" stroke-width="0.6"/>
<circle cx="620.6" cy="1041.32" r="3.6" fill="#f3b36b" stroke="#e9a75e" stroke-width="0.6"/>
<circle cx="617.88" cy="1037.35" r="3.6" fill="#f3b36b" stroke="#e9a75e" stroke-width="0.6"/>
<circle cx="616.1" cy="1043.26" r="3.6" fill="#f3b36b" stroke="#e9a75e" stroke-width="0.6"/>
<circle cx="620.37" cy="1063.89" r="3.6" fill="#f3b36b" stroke="#e9a75e" stroke-width="0.6"/>
<circle cx="616.1" cy="1030.59" r="3.6" fill="#f3b36b" stroke="#e9a75e" stroke-width="0.6"/>
<circle cx="617.43" cy="1065.27" r="3.6" fill="#f3b36b" stroke="#e9a75e" stroke-width="0.6"/>
<circle cx="615.9" cy="1046.23" r="3.6" fill="#f3b36b" stroke="#e9a75e" stroke-width="0.6"/>
<line x1="464.3" y1="1047.8" x2="516.1" y2="1047.8" stroke="#1a1a1a" stroke-width="1.4" stroke-opacity="0.88"/>
<line x1="464.3" y1="1050.7" x2="516.1" y2="1050.7" stroke="#000" stroke-width="1.5" stroke-opacity="0.9"/>
<line x1="464.3" y1="1053.2" x2="516.1" y2="1053.2" stroke="#1a1a1a" stroke-width="1.4" stroke-opacity="0.88"/>
<line x1="592.9" y1="1051.5" x2="644.7" y2="1051.5" stroke="#1a1a1a" stroke-width="1.4" stroke-opacity="0.88"/>
<line x1="592.9" y1="1053.3" x2="644.7" y2="1053.3" stroke="#000" stroke-width="1.5" stroke-opacity="0.9"/>
<line x1="592.9" y1="1055.4" x2="644.7" y2="1055.4" stroke="#1a1a1a" stroke-width="1.4" stroke-opacity="0.88"/>
<rect x="426.1" y="631.2" width="258.1" height="483.3" fill="none" stroke="#222" stroke-width="2"/>
<line x1="490.2" y1="1114.5" x2="490.2" y2="1108.5" stroke="#222" stroke-width="2"/>
<line x1="490.2" y1="631.2" x2="490.2" y2="637.2" stroke="#222" stroke-width="2"/>
<line x1="618.8" y1="1114.5" x2="618.8" y2="1108.5" stroke="#222" stroke-width="2"/>
<line x1="618.8" y1="631.2" x2="618.8" y2="637.2" stroke="#222" stroke-width="2"/>
<line x1="426.1" y1="1060.8" x2="432.1" y2="1060.8" stroke="#222" stroke-width="2"/>
<line x1="684.2" y1="1060.8" x2="678.2" y2="1060.8" stroke="#222" stroke-width="2"/>
<line x1="426.1" y1="1007.1" x2="432.1" y2="1007.1" stroke="#222" stroke-width="2"/>
<line x1="684.2" y1="1007.1" x2="678.2" y2="1007.1" stroke="#222" stroke-width="2"/>
<line x1="426.1" y1="953.4" x2="432.1" y2="953.4" stroke="#222" stroke-width="2"/>
<line x1="684.2" y1="953.4" x2="678.2" y2="953.4" stroke="#222" stroke-width="2"/>
<line x1="426.1" y1="899.7" x2="432.1" y2="899.7" stroke="#222" stroke-width="2"/>
<line x1="684.2" y1="899.7" x2="678.2" y2="899.7" stroke="#222" stroke-width="2"/>
<line x1="426.1" y1="846" x2="432.1" y2="846" stroke="#222" stroke-width="2"/>
<line x1="684.2" y1="846" x2="678.2" y2="846" stroke="#222" stroke-width="2"/>
<line x1="426.1" y1="792.3" x2="432.1" y2="792.3" stroke="#222" stroke-width="2"/>
<line x1="684.2" y1="792.3" x2="678.2" y2="792.3" stroke="#222" stroke-width="2"/>
<line x1="426.1" y1="738.6" x2="432.1" y2="738.6" stroke="#222" stroke-width="2"/>
<line x1="684.2" y1="738.6" x2="678.2" y2="738.6" stroke="#222" stroke-width="2"/>
<line x1="426.1" y1="684.9" x2="432.1" y2="684.9" stroke="#222" stroke-width="2"/>
<line x1="684.2" y1="684.9" x2="678.2" y2="684.9" stroke="#222" stroke-width="2"/>
<text x="418.5" y="1070.2" font-size="24" text-anchor="end" fill="#1a1a1a">0</text>
<text x="418.5" y="962.8" font-size="24" text-anchor="end" fill="#1a1a1a">200</text>
<text x="418.5" y="855.4" font-size="24" text-anchor="end" fill="#1a1a1a">400</text>
<text x="418.5" y="748" font-size="24" text-anchor="end" fill="#1a1a1a">600</text>
<text x="418.5" y="640.6" font-size="24" text-anchor="end" fill="#1a1a1a">800</text>
<text x="489.7" y="1145.1" font-size="24" text-anchor="middle" fill="#1a1a1a">Pref</text>
<text x="618.3" y="1145.1" font-size="24" text-anchor="middle" fill="#1a1a1a">NonPref</text>
<text x="547.2" y="1182.2" font-size="26.3" text-anchor="middle" fill="#1a1a1a">Trial type</text>
<polyline points="490.8,670.7 490.8,659.1 616.9,659.1 616.9,670.7" fill="none" stroke="#000" stroke-width="2"/>
<text x="552.6" y="663.2" font-size="24.5" text-anchor="middle" fill="#000" stroke="#000" stroke-width="0.45">*</text>
<text x="474.6" y="705" font-size="24.5" text-anchor="middle" fill="#000" stroke="#000" stroke-width="0.45">*</text>
<text x="486.2" y="705" font-size="24.5" text-anchor="middle" fill="#000" stroke="#000" stroke-width="0.45">*</text>
<text x="497.8" y="705" font-size="24.5" text-anchor="middle" fill="#000" stroke="#000" stroke-width="0.45">*</text>
<text x="600" y="706.3" font-size="24.5" text-anchor="middle" fill="#000" stroke="#000" stroke-width="0.45">*</text>
<text x="611.6" y="706.3" font-size="24.5" text-anchor="middle" fill="#000" stroke="#000" stroke-width="0.45">*</text>
<text x="623.2" y="706.3" font-size="24.5" text-anchor="middle" fill="#000" stroke="#000" stroke-width="0.45">*</text>
<g stroke="#858585" stroke-width="1.4">
<line x1="868.7" y1="911.7" x2="934.1" y2="951.7"/>
<line x1="868.7" y1="1019.7" x2="934.1" y2="1056.8"/>
<line x1="868.7" y1="1033.4" x2="934.1" y2="1043.6"/>
<line x1="868.7" y1="1034.4" x2="934.1" y2="1043.6"/>
<line x1="868.7" y1="1037.3" x2="934.1" y2="1019.3"/>
<line x1="868.7" y1="1058.2" x2="934.1" y2="1026.1"/>
<line x1="868.7" y1="1046" x2="934.1" y2="1056.8"/>
<line x1="868.7" y1="1051.9" x2="934.1" y2="1060.7"/>
<line x1="868.7" y1="1056.8" x2="934.1" y2="1063.1"/>
<line x1="868.7" y1="1059.5" x2="934.1" y2="1064.6"/>
<line x1="868.7" y1="1060.7" x2="934.1" y2="1066.5"/>
<line x1="868.7" y1="1061.6" x2="934.1" y2="1062"/>
<line x1="868.7" y1="1067" x2="934.1" y2="1070.4"/>
<line x1="868.7" y1="1073.3" x2="934.1" y2="1074.3"/>
<line x1="868.7" y1="1074.3" x2="934.1" y2="1077.2"/>
<line x1="868.7" y1="1076.7" x2="934.1" y2="1072.3"/>
</g>
<circle cx="842.1" cy="911.7" r="3.6" fill="#2e87ad" stroke="#2a7ea3" stroke-width="0.6"/>
<circle cx="831.2" cy="1020.2" r="3.6" fill="#2e87ad" stroke="#2a7ea3" stroke-width="0.6"/>
<circle cx="833.1" cy="1033.9" r="3.6" fill="#2e87ad" stroke="#2a7ea3" stroke-width="0.6"/>
<circle cx="832.2" cy="1037.3" r="3.6" fill="#2e87ad" stroke="#2a7ea3" stroke-width="0.6"/>
<circle cx="842.4" cy="1046" r="3.6" fill="#2e87ad" stroke="#2a7ea3" stroke-width="0.6"/>
<circle cx="836.1" cy="1052.4" r="3.6" fill="#2e87ad" stroke="#2a7ea3" stroke-width="0.6"/>
<circle cx="832" cy="1058" r="3.6" fill="#2e87ad" stroke="#2a7ea3" stroke-width="0.6"/>
<circle cx="836" cy="1060" r="3.6" fill="#2e87ad" stroke="#2a7ea3" stroke-width="0.6"/>
<circle cx="840" cy="1060.7" r="3.6" fill="#2e87ad" stroke="#2a7ea3" stroke-width="0.6"/>
<circle cx="834.6" cy="1063.6" r="3.6" fill="#2e87ad" stroke="#2a7ea3" stroke-width="0.6"/>
<circle cx="836" cy="1067.5" r="3.6" fill="#2e87ad" stroke="#2a7ea3" stroke-width="0.6"/>
<circle cx="836.1" cy="1073.3" r="3.6" fill="#2e87ad" stroke="#2a7ea3" stroke-width="0.6"/>
<circle cx="836.1" cy="1076.2" r="3.6" fill="#2e87ad" stroke="#2a7ea3" stroke-width="0.6"/>
<circle cx="830" cy="1059" r="3.6" fill="#2e87ad" stroke="#2a7ea3" stroke-width="0.6"/>
<circle cx="838" cy="1063" r="3.6" fill="#2e87ad" stroke="#2a7ea3" stroke-width="0.6"/>
<circle cx="968.5" cy="951.7" r="3.6" fill="#f3b36b" stroke="#e9a75e" stroke-width="0.6"/>
<circle cx="964.2" cy="1019.3" r="3.6" fill="#f3b36b" stroke="#e9a75e" stroke-width="0.6"/>
<circle cx="961.8" cy="1025.6" r="3.6" fill="#f3b36b" stroke="#e9a75e" stroke-width="0.6"/>
<circle cx="964.8" cy="1043.6" r="3.6" fill="#f3b36b" stroke="#e9a75e" stroke-width="0.6"/>
<circle cx="971.6" cy="1043.6" r="3.6" fill="#f3b36b" stroke="#e9a75e" stroke-width="0.6"/>
<circle cx="963.2" cy="1057" r="3.6" fill="#f3b36b" stroke="#e9a75e" stroke-width="0.6"/>
<circle cx="967.7" cy="1058.2" r="3.6" fill="#f3b36b" stroke="#e9a75e" stroke-width="0.6"/>
<circle cx="962.4" cy="1063" r="3.6" fill="#f3b36b" stroke="#e9a75e" stroke-width="0.6"/>
<circle cx="968.2" cy="1064.6" r="3.6" fill="#f3b36b" stroke="#e9a75e" stroke-width="0.6"/>
<circle cx="973.9" cy="1066.5" r="3.6" fill="#f3b36b" stroke="#e9a75e" stroke-width="0.6"/>
<circle cx="963.3" cy="1068.5" r="3.6" fill="#f3b36b" stroke="#e9a75e" stroke-width="0.6"/>
<circle cx="968.7" cy="1071.6" r="3.6" fill="#f3b36b" stroke="#e9a75e" stroke-width="0.6"/>
<circle cx="961.5" cy="1075.5" r="3.6" fill="#f3b36b" stroke="#e9a75e" stroke-width="0.6"/>
<circle cx="961" cy="1077" r="3.6" fill="#f3b36b" stroke="#e9a75e" stroke-width="0.6"/>
<circle cx="965" cy="1062" r="3.6" fill="#f3b36b" stroke="#e9a75e" stroke-width="0.6"/>
<line x1="810.8" y1="1038.3" x2="862.6" y2="1038.3" stroke="#1a1a1a" stroke-width="1.4" stroke-opacity="0.88"/>
<line x1="810.8" y1="1046.8" x2="862.6" y2="1046.8" stroke="#000" stroke-width="2" stroke-opacity="0.9"/>
<line x1="810.8" y1="1055.8" x2="862.6" y2="1055.8" stroke="#1a1a1a" stroke-width="1.4" stroke-opacity="0.88"/>
<line x1="940.4" y1="1045.3" x2="992.2" y2="1045.3" stroke="#1a1a1a" stroke-width="1.4" stroke-opacity="0.88"/>
<line x1="940.4" y1="1052.2" x2="992.2" y2="1052.2" stroke="#000" stroke-width="2" stroke-opacity="0.9"/>
<line x1="940.4" y1="1058.9" x2="992.2" y2="1058.9" stroke="#1a1a1a" stroke-width="1.4" stroke-opacity="0.88"/>
<rect x="772.4" y="631.9" width="259.3" height="486" fill="none" stroke="#222" stroke-width="2"/>
<line x1="836.7" y1="1117.9" x2="836.7" y2="1111.9" stroke="#222" stroke-width="2"/>
<line x1="836.7" y1="631.9" x2="836.7" y2="637.9" stroke="#222" stroke-width="2"/>
<line x1="966.3" y1="1117.9" x2="966.3" y2="1111.9" stroke="#222" stroke-width="2"/>
<line x1="966.3" y1="631.9" x2="966.3" y2="637.9" stroke="#222" stroke-width="2"/>
<line x1="772.4" y1="1063.9" x2="778.4" y2="1063.9" stroke="#222" stroke-width="2"/>
<line x1="1031.7" y1="1063.9" x2="1025.7" y2="1063.9" stroke="#222" stroke-width="2"/>
<line x1="772.4" y1="1009.9" x2="778.4" y2="1009.9" stroke="#222" stroke-width="2"/>
<line x1="1031.7" y1="1009.9" x2="1025.7" y2="1009.9" stroke="#222" stroke-width="2"/>
<line x1="772.4" y1="955.9" x2="778.4" y2="955.9" stroke="#222" stroke-width="2"/>
<line x1="1031.7" y1="955.9" x2="1025.7" y2="955.9" stroke="#222" stroke-width="2"/>
<line x1="772.4" y1="901.9" x2="778.4" y2="901.9" stroke="#222" stroke-width="2"/>
<line x1="1031.7" y1="901.9" x2="1025.7" y2="901.9" stroke="#222" stroke-width="2"/>
<line x1="772.4" y1="847.9" x2="778.4" y2="847.9" stroke="#222" stroke-width="2"/>
<line x1="1031.7" y1="847.9" x2="1025.7" y2="847.9" stroke="#222" stroke-width="2"/>
<line x1="772.4" y1="793.9" x2="778.4" y2="793.9" stroke="#222" stroke-width="2"/>
<line x1="1031.7" y1="793.9" x2="1025.7" y2="793.9" stroke="#222" stroke-width="2"/>
<line x1="772.4" y1="739.9" x2="778.4" y2="739.9" stroke="#222" stroke-width="2"/>
<line x1="1031.7" y1="739.9" x2="1025.7" y2="739.9" stroke="#222" stroke-width="2"/>
<line x1="772.4" y1="685.9" x2="778.4" y2="685.9" stroke="#222" stroke-width="2"/>
<line x1="1031.7" y1="685.9" x2="1025.7" y2="685.9" stroke="#222" stroke-width="2"/>
<text x="765.1" y="1073.3" font-size="24" text-anchor="end" fill="#1a1a1a">0</text>
<text x="765.1" y="965.3" font-size="24" text-anchor="end" fill="#1a1a1a">200</text>
<text x="765.1" y="857.3" font-size="24" text-anchor="end" fill="#1a1a1a">400</text>
<text x="765.1" y="749.3" font-size="24" text-anchor="end" fill="#1a1a1a">600</text>
<text x="765.1" y="641.3" font-size="24" text-anchor="end" fill="#1a1a1a">800</text>
<text x="836.2" y="1148.5" font-size="24" text-anchor="middle" fill="#1a1a1a">Pref</text>
<text x="965.8" y="1148.5" font-size="24" text-anchor="middle" fill="#1a1a1a">NonPref</text>
<text x="899.3" y="1186.5" font-size="26.3" text-anchor="middle" fill="#1a1a1a">Trial type</text>
<polyline points="835.7,671.6 835.7,660.3 964.6,660.3 964.6,671.6" fill="none" stroke="#000" stroke-width="2"/>
<text x="903.3" y="652.8" font-size="25.4" text-anchor="middle" fill="#000">ns</text>
<g stroke="#858585" stroke-width="1.4">
<line x1="1221.5" y1="971.1" x2="1287.2" y2="968.5"/>
<line x1="1221.5" y1="1010.6" x2="1287.2" y2="1000.5"/>
<line x1="1221.5" y1="1014.3" x2="1287.2" y2="1021.3"/>
<line x1="1221.5" y1="1016.8" x2="1287.2" y2="1021.6"/>
<line x1="1221.5" y1="1043.3" x2="1287.2" y2="1043.5"/>
<line x1="1221.5" y1="1052.3" x2="1287.2" y2="1031.6"/>
<line x1="1221.5" y1="1056.7" x2="1287.2" y2="1055.5"/>
<line x1="1221.5" y1="1057.7" x2="1287.2" y2="1061.5"/>
<line x1="1221.5" y1="1062.4" x2="1287.2" y2="1070.6"/>
<line x1="1221.5" y1="1063" x2="1287.2" y2="1072.4"/>
<line x1="1221.5" y1="1068.7" x2="1287.2" y2="1066.8"/>
<line x1="1221.5" y1="1069" x2="1287.2" y2="1069.9"/>
<line x1="1221.5" y1="1074.6" x2="1287.2" y2="1078.1"/>
<line x1="1221.5" y1="1103.2" x2="1287.2" y2="1087.1"/>
</g>
<circle cx="1184.2" cy="971.1" r="3.6" fill="#2e87ad" stroke="#2a7ea3" stroke-width="0.6"/>
<circle cx="1189.5" cy="1010" r="3.6" fill="#2e87ad" stroke="#2a7ea3" stroke-width="0.6"/>
<circle cx="1187" cy="1015" r="3.6" fill="#2e87ad" stroke="#2a7ea3" stroke-width="0.6"/>
<circle cx="1186.2" cy="1017.3" r="3.6" fill="#2e87ad" stroke="#2a7ea3" stroke-width="0.6"/>
<circle cx="1195.3" cy="1043.3" r="3.6" fill="#2e87ad" stroke="#2a7ea3" stroke-width="0.6"/>
<circle cx="1183.2" cy="1052.3" r="3.6" fill="#2e87ad" stroke="#2a7ea3" stroke-width="0.6"/>
<circle cx="1187.6" cy="1055.7" r="3.6" fill="#2e87ad" stroke="#2a7ea3" stroke-width="0.6"/>
<circle cx="1185.1" cy="1062.3" r="3.6" fill="#2e87ad" stroke="#2a7ea3" stroke-width="0.6"/>
<circle cx="1194.4" cy="1062" r="3.6" fill="#2e87ad" stroke="#2a7ea3" stroke-width="0.6"/>
<circle cx="1190.7" cy="1068.2" r="3.6" fill="#2e87ad" stroke="#2a7ea3" stroke-width="0.6"/>
<circle cx="1189" cy="1071.6" r="3.6" fill="#2e87ad" stroke="#2a7ea3" stroke-width="0.6"/>
<circle cx="1188.5" cy="1074.6" r="3.6" fill="#2e87ad" stroke="#2a7ea3" stroke-width="0.6"/>
<circle cx="1188.1" cy="1103.2" r="3.6" fill="#2e87ad" stroke="#2a7ea3" stroke-width="0.6"/>
<circle cx="1317.4" cy="968.8" r="3.6" fill="#f3b36b" stroke="#e9a75e" stroke-width="0.6"/>
<circle cx="1313.3" cy="1000.5" r="3.6" fill="#f3b36b" stroke="#e9a75e" stroke-width="0.6"/>
<circle cx="1317.3" cy="1021" r="3.6" fill="#f3b36b" stroke="#e9a75e" stroke-width="0.6"/>
<circle cx="1321.4" cy="1021" r="3.6" fill="#f3b36b" stroke="#e9a75e" stroke-width="0.6"/>
<circle cx="1324.1" cy="1031.7" r="3.6" fill="#f3b36b" stroke="#e9a75e" stroke-width="0.6"/>
<circle cx="1316.3" cy="1043.2" r="3.6" fill="#f3b36b" stroke="#e9a75e" stroke-width="0.6"/>
<circle cx="1325.1" cy="1055.7" r="3.6" fill="#f3b36b" stroke="#e9a75e" stroke-width="0.6"/>
<circle cx="1317.7" cy="1061.5" r="3.6" fill="#f3b36b" stroke="#e9a75e" stroke-width="0.6"/>
<circle cx="1313.3" cy="1070.1" r="3.6" fill="#f3b36b" stroke="#e9a75e" stroke-width="0.6"/>
<circle cx="1318.2" cy="1067.6" r="3.6" fill="#f3b36b" stroke="#e9a75e" stroke-width="0.6"/>
<circle cx="1321.9" cy="1069.6" r="3.6" fill="#f3b36b" stroke="#e9a75e" stroke-width="0.6"/>
<circle cx="1317" cy="1077.6" r="3.6" fill="#f3b36b" stroke="#e9a75e" stroke-width="0.6"/>
<circle cx="1325.5" cy="1086.8" r="3.6" fill="#f3b36b" stroke="#e9a75e" stroke-width="0.6"/>
<line x1="1163.6" y1="1038.5" x2="1215.4" y2="1038.5" stroke="#1a1a1a" stroke-width="1.4" stroke-opacity="0.88"/>
<line x1="1163.6" y1="1047.3" x2="1215.4" y2="1047.3" stroke="#000" stroke-width="2" stroke-opacity="0.9"/>
<line x1="1163.6" y1="1056.5" x2="1215.4" y2="1056.5" stroke="#1a1a1a" stroke-width="1.4" stroke-opacity="0.88"/>
<line x1="1293.5" y1="1037.3" x2="1345.3" y2="1037.3" stroke="#1a1a1a" stroke-width="1.4" stroke-opacity="0.88"/>
<line x1="1293.5" y1="1046.2" x2="1345.3" y2="1046.2" stroke="#000" stroke-width="2" stroke-opacity="0.9"/>
<line x1="1293.5" y1="1055.2" x2="1345.3" y2="1055.2" stroke="#1a1a1a" stroke-width="1.4" stroke-opacity="0.88"/>
<rect x="1124.6" y="635.7" width="259.6" height="486.4" fill="none" stroke="#222" stroke-width="2"/>
<line x1="1189.5" y1="1122.1" x2="1189.5" y2="1116.1" stroke="#222" stroke-width="2"/>
<line x1="1189.5" y1="635.7" x2="1189.5" y2="641.7" stroke="#222" stroke-width="2"/>
<line x1="1319.4" y1="1122.1" x2="1319.4" y2="1116.1" stroke="#222" stroke-width="2"/>
<line x1="1319.4" y1="635.7" x2="1319.4" y2="641.7" stroke="#222" stroke-width="2"/>
<line x1="1124.6" y1="1068.06" x2="1130.6" y2="1068.06" stroke="#222" stroke-width="2"/>
<line x1="1384.2" y1="1068.06" x2="1378.2" y2="1068.06" stroke="#222" stroke-width="2"/>
<line x1="1124.6" y1="1014.01" x2="1130.6" y2="1014.01" stroke="#222" stroke-width="2"/>
<line x1="1384.2" y1="1014.01" x2="1378.2" y2="1014.01" stroke="#222" stroke-width="2"/>
<line x1="1124.6" y1="959.97" x2="1130.6" y2="959.97" stroke="#222" stroke-width="2"/>
<line x1="1384.2" y1="959.97" x2="1378.2" y2="959.97" stroke="#222" stroke-width="2"/>
<line x1="1124.6" y1="905.92" x2="1130.6" y2="905.92" stroke="#222" stroke-width="2"/>
<line x1="1384.2" y1="905.92" x2="1378.2" y2="905.92" stroke="#222" stroke-width="2"/>
<line x1="1124.6" y1="851.88" x2="1130.6" y2="851.88" stroke="#222" stroke-width="2"/>
<line x1="1384.2" y1="851.88" x2="1378.2" y2="851.88" stroke="#222" stroke-width="2"/>
<line x1="1124.6" y1="797.83" x2="1130.6" y2="797.83" stroke="#222" stroke-width="2"/>
<line x1="1384.2" y1="797.83" x2="1378.2" y2="797.83" stroke="#222" stroke-width="2"/>
<line x1="1124.6" y1="743.79" x2="1130.6" y2="743.79" stroke="#222" stroke-width="2"/>
<line x1="1384.2" y1="743.79" x2="1378.2" y2="743.79" stroke="#222" stroke-width="2"/>
<line x1="1124.6" y1="689.74" x2="1130.6" y2="689.74" stroke="#222" stroke-width="2"/>
<line x1="1384.2" y1="689.74" x2="1378.2" y2="689.74" stroke="#222" stroke-width="2"/>
<text x="1117.6" y="1077.46" font-size="24" text-anchor="end" fill="#1a1a1a">0</text>
<text x="1117.6" y="969.37" font-size="24" text-anchor="end" fill="#1a1a1a">200</text>
<text x="1117.6" y="861.28" font-size="24" text-anchor="end" fill="#1a1a1a">400</text>
<text x="1117.6" y="753.19" font-size="24" text-anchor="end" fill="#1a1a1a">600</text>
<text x="1117.6" y="645.1" font-size="24" text-anchor="end" fill="#1a1a1a">800</text>
<text x="1189" y="1152.7" font-size="24" text-anchor="middle" fill="#1a1a1a">Pref</text>
<text x="1318.9" y="1152.7" font-size="24" text-anchor="middle" fill="#1a1a1a">NonPref</text>
<text x="1256.2" y="1187.1" font-size="26.3" text-anchor="middle" fill="#1a1a1a">Trial type</text>
<polyline points="1190.7,673.4 1190.7,662.3 1320.1,662.3 1320.1,673.4" fill="none" stroke="#000" stroke-width="2"/>
<text x="1258.3" y="654.5" font-size="25.4" text-anchor="middle" fill="#000">ns</text>
<g stroke="#858585" stroke-width="1.4">
<line x1="1563.7" y1="1006.3" x2="1629.8" y2="1011.3"/>
<line x1="1563.7" y1="1023.6" x2="1629.8" y2="1029"/>
<line x1="1563.7" y1="1024.2" x2="1629.8" y2="1033.4"/>
<line x1="1563.7" y1="1028" x2="1629.8" y2="1042.2"/>
<line x1="1563.7" y1="1035.2" x2="1629.8" y2="1041.3"/>
<line x1="1563.7" y1="1046.6" x2="1629.8" y2="1042.6"/>
<line x1="1563.7" y1="1055.8" x2="1629.8" y2="1026.8"/>
<line x1="1563.7" y1="1047.9" x2="1629.8" y2="1057.1"/>
<line x1="1563.7" y1="1051.4" x2="1629.8" y2="1058"/>
<line x1="1563.7" y1="1074.7" x2="1629.8" y2="1081.8"/>
<line x1="1563.7" y1="1078.7" x2="1629.8" y2="1076.5"/>
<line x1="1563.7" y1="1085.7" x2="1629.8" y2="1074.7"/>
<line x1="1563.7" y1="1086.1" x2="1629.8" y2="1087"/>
<line x1="1563.7" y1="1091.9" x2="1629.8" y2="1087"/>
<line x1="1563.7" y1="1092.7" x2="1629.8" y2="1095.8"/>
<line x1="1563.7" y1="1094.1" x2="1629.8" y2="1099.8"/>
<line x1="1563.7" y1="1073" x2="1629.8" y2="1086.6"/>
<line x1="1563.7" y1="1062.84" x2="1629.8" y2="1071.45"/>
<line x1="1563.7" y1="1073.37" x2="1629.8" y2="1068.29"/>
<line x1="1563.7" y1="1073.09" x2="1629.8" y2="1072.82"/>
<line x1="1563.7" y1="1062.35" x2="1629.8" y2="1056.5"/>
<line x1="1563.7" y1="1070.95" x2="1629.8" y2="1071.96"/>
<line x1="1563.7" y1="1070.92" x2="1629.8" y2="1067.62"/>
<line x1="1563.7" y1="1063.89" x2="1629.8" y2="1058.86"/>
<line x1="1563.7" y1="1061.06" x2="1629.8" y2="1063.44"/>
<line x1="1563.7" y1="1070.74" x2="1629.8" y2="1064.09"/>
<line x1="1563.7" y1="1061.3" x2="1629.8" y2="1056.5"/>
<line x1="1563.7" y1="1068.06" x2="1629.8" y2="1070.45"/>
<line x1="1563.7" y1="1060.58" x2="1629.8" y2="1056.5"/>
<line x1="1563.7" y1="1062.43" x2="1629.8" y2="1063.36"/>
<line x1="1563.7" y1="1061.66" x2="1629.8" y2="1057.57"/>
<line x1="1563.7" y1="1072.42" x2="1629.8" y2="1075"/>
<line x1="1563.7" y1="1061.05" x2="1629.8" y2="1061.46"/>
<line x1="1563.7" y1="1063.89" x2="1629.8" y2="1065.67"/>
<line x1="1563.7" y1="1067.12" x2="1629.8" y2="1068.53"/>
<line x1="1563.7" y1="1061.62" x2="1629.8" y2="1063.78"/>
<line x1="1563.7" y1="1074.59" x2="1629.8" y2="1074.23"/>
<line x1="1563.7" y1="1074.38" x2="1629.8" y2="1072.01"/>
<line x1="1563.7" y1="1060.18" x2="1629.8" y2="1056.5"/>
<line x1="1563.7" y1="1071.62" x2="1629.8" y2="1075"/>
<line x1="1563.7" y1="1070.6" x2="1629.8" y2="1067.03"/>
</g>
<circle cx="1534.4" cy="1006.5" r="3.6" fill="#2e87ad" stroke="#2a7ea3" stroke-width="0.6"/>
<circle cx="1533.6" cy="1023.7" r="3.6" fill="#2e87ad" stroke="#2a7ea3" stroke-width="0.6"/>
<circle cx="1526.9" cy="1027.7" r="3.6" fill="#2e87ad" stroke="#2a7ea3" stroke-width="0.6"/>
<circle cx="1535.2" cy="1035" r="3.6" fill="#2e87ad" stroke="#2a7ea3" stroke-width="0.6"/>
<circle cx="1529.5" cy="1046" r="3.6" fill="#2e87ad" stroke="#2a7ea3" stroke-width="0.6"/>
<circle cx="1529.5" cy="1050" r="3.6" fill="#2e87ad" stroke="#2a7ea3" stroke-width="0.6"/>
<circle cx="1529.5" cy="1054" r="3.6" fill="#2e87ad" stroke="#2a7ea3" stroke-width="0.6"/>
<circle cx="1538.5" cy="1056" r="3.6" fill="#2e87ad" stroke="#2a7ea3" stroke-width="0.6"/>
<circle cx="1528" cy="1079" r="3.6" fill="#2e87ad" stroke="#2a7ea3" stroke-width="0.6"/>
<circle cx="1532" cy="1085" r="3.6" fill="#2e87ad" stroke="#2a7ea3" stroke-width="0.6"/>
<circle cx="1526" cy="1092" r="3.6" fill="#2e87ad" stroke="#2a7ea3" stroke-width="0.6"/>
<circle cx="1532.5" cy="1093.5" r="3.6" fill="#2e87ad" stroke="#2a7ea3" stroke-width="0.6"/>
<circle cx="1530" cy="1096" r="3.6" fill="#2e87ad" stroke="#2a7ea3" stroke-width="0.6"/>
<circle cx="1526.18" cy="1061.73" r="3.6" fill="#2e87ad" stroke="#2a7ea3" stroke-width="0.6"/>
<circle cx="1528.83" cy="1072.37" r="3.6" fill="#2e87ad" stroke="#2a7ea3" stroke-width="0.6"/>
<circle cx="1537.34" cy="1072.42" r="3.6" fill="#2e87ad" stroke="#2a7ea3" stroke-width="0.6"/>
<circle cx="1529.92" cy="1075.36" r="3.6" fill="#2e87ad" stroke="#2a7ea3" stroke-width="0.6"/>
<circle cx="1529.94" cy="1061.26" r="3.6" fill="#2e87ad" stroke="#2a7ea3" stroke-width="0.6"/>
<circle cx="1536.89" cy="1069.88" r="3.6" fill="#2e87ad" stroke="#2a7ea3" stroke-width="0.6"/>
<circle cx="1534.31" cy="1070.64" r="3.6" fill="#2e87ad" stroke="#2a7ea3" stroke-width="0.6"/>
<circle cx="1537.75" cy="1066.33" r="3.6" fill="#2e87ad" stroke="#2a7ea3" stroke-width="0.6"/>
<circle cx="1536.08" cy="1071.35" r="3.6" fill="#2e87ad" stroke="#2a7ea3" stroke-width="0.6"/>
<circle cx="1536.29" cy="1065.62" r="3.6" fill="#2e87ad" stroke="#2a7ea3" stroke-width="0.6"/>
<circle cx="1534.7" cy="1068.55" r="3.6" fill="#2e87ad" stroke="#2a7ea3" stroke-width="0.6"/>
<circle cx="1529.69" cy="1060.66" r="3.6" fill="#2e87ad" stroke="#2a7ea3" stroke-width="0.6"/>
<circle cx="1533.47" cy="1057.71" r="3.6" fill="#2e87ad" stroke="#2a7ea3" stroke-width="0.6"/>
<circle cx="1536.93" cy="1059.18" r="3.6" fill="#2e87ad" stroke="#2a7ea3" stroke-width="0.6"/>
<circle cx="1526.32" cy="1058.35" r="3.6" fill="#2e87ad" stroke="#2a7ea3" stroke-width="0.6"/>
<circle cx="1537.15" cy="1063.59" r="3.6" fill="#2e87ad" stroke="#2a7ea3" stroke-width="0.6"/>
<circle cx="1527.7" cy="1056.63" r="3.6" fill="#2e87ad" stroke="#2a7ea3" stroke-width="0.6"/>
<circle cx="1526.5" cy="1071.24" r="3.6" fill="#2e87ad" stroke="#2a7ea3" stroke-width="0.6"/>
<circle cx="1533.61" cy="1071.33" r="3.6" fill="#2e87ad" stroke="#2a7ea3" stroke-width="0.6"/>
<circle cx="1534.84" cy="1057.45" r="3.6" fill="#2e87ad" stroke="#2a7ea3" stroke-width="0.6"/>
<circle cx="1533.09" cy="1063.99" r="3.6" fill="#2e87ad" stroke="#2a7ea3" stroke-width="0.6"/>
<circle cx="1535.81" cy="1074.03" r="3.6" fill="#2e87ad" stroke="#2a7ea3" stroke-width="0.6"/>
<circle cx="1536.7" cy="1057.45" r="3.6" fill="#2e87ad" stroke="#2a7ea3" stroke-width="0.6"/>
<circle cx="1536.41" cy="1076.12" r="3.6" fill="#2e87ad" stroke="#2a7ea3" stroke-width="0.6"/>
<circle cx="1537.33" cy="1058.36" r="3.6" fill="#2e87ad" stroke="#2a7ea3" stroke-width="0.6"/>
<circle cx="1528.47" cy="1058.46" r="3.6" fill="#2e87ad" stroke="#2a7ea3" stroke-width="0.6"/>
<circle cx="1526.41" cy="1074.65" r="3.6" fill="#2e87ad" stroke="#2a7ea3" stroke-width="0.6"/>
<circle cx="1535.74" cy="1069.95" r="3.6" fill="#2e87ad" stroke="#2a7ea3" stroke-width="0.6"/>
<circle cx="1535.9" cy="1069.89" r="3.6" fill="#2e87ad" stroke="#2a7ea3" stroke-width="0.6"/>
<circle cx="1529.45" cy="1058.2" r="3.6" fill="#2e87ad" stroke="#2a7ea3" stroke-width="0.6"/>
<circle cx="1666.2" cy="1011" r="3.6" fill="#f3b36b" stroke="#e9a75e" stroke-width="0.6"/>
<circle cx="1666" cy="1027" r="3.6" fill="#f3b36b" stroke="#e9a75e" stroke-width="0.6"/>
<circle cx="1658.5" cy="1030" r="3.6" fill="#f3b36b" stroke="#e9a75e" stroke-width="0.6"/>
<circle cx="1663" cy="1034" r="3.6" fill="#f3b36b" stroke="#e9a75e" stroke-width="0.6"/>
<circle cx="1656.6" cy="1041.6" r="3.6" fill="#f3b36b" stroke="#e9a75e" stroke-width="0.6"/>
<circle cx="1666.5" cy="1042.6" r="3.6" fill="#f3b36b" stroke="#e9a75e" stroke-width="0.6"/>
<circle cx="1661.5" cy="1045" r="3.6" fill="#f3b36b" stroke="#e9a75e" stroke-width="0.6"/>
<circle cx="1666" cy="1083" r="3.6" fill="#f3b36b" stroke="#e9a75e" stroke-width="0.6"/>
<circle cx="1657" cy="1087" r="3.6" fill="#f3b36b" stroke="#e9a75e" stroke-width="0.6"/>
<circle cx="1665" cy="1093" r="3.6" fill="#f3b36b" stroke="#e9a75e" stroke-width="0.6"/>
<circle cx="1667.5" cy="1100" r="3.6" fill="#f3b36b" stroke="#e9a75e" stroke-width="0.6"/>
<circle cx="1660" cy="1078" r="3.6" fill="#f3b36b" stroke="#e9a75e" stroke-width="0.6"/>
<circle cx="1658.17" cy="1073.69" r="3.6" fill="#f3b36b" stroke="#e9a75e" stroke-width="0.6"/>
<circle cx="1659.46" cy="1062.3" r="3.6" fill="#f3b36b" stroke="#e9a75e" stroke-width="0.6"/>
<circle cx="1662.09" cy="1054.54" r="3.6" fill="#f3b36b" stroke="#e9a75e" stroke-width="0.6"/>
<circle cx="1660.08" cy="1061.35" r="3.6" fill="#f3b36b" stroke="#e9a75e" stroke-width="0.6"/>
<circle cx="1665.59" cy="1063.57" r="3.6" fill="#f3b36b" stroke="#e9a75e" stroke-width="0.6"/>
<circle cx="1660.85" cy="1079.06" r="3.6" fill="#f3b36b" stroke="#e9a75e" stroke-width="0.6"/>
<circle cx="1663.04" cy="1076.14" r="3.6" fill="#f3b36b" stroke="#e9a75e" stroke-width="0.6"/>
<circle cx="1664.42" cy="1054.81" r="3.6" fill="#f3b36b" stroke="#e9a75e" stroke-width="0.6"/>
<circle cx="1661.96" cy="1065.35" r="3.6" fill="#f3b36b" stroke="#e9a75e" stroke-width="0.6"/>
<circle cx="1666.28" cy="1063.02" r="3.6" fill="#f3b36b" stroke="#e9a75e" stroke-width="0.6"/>
<circle cx="1665.46" cy="1067.98" r="3.6" fill="#f3b36b" stroke="#e9a75e" stroke-width="0.6"/>
<circle cx="1659.6" cy="1076.42" r="3.6" fill="#f3b36b" stroke="#e9a75e" stroke-width="0.6"/>
<circle cx="1658.09" cy="1075.32" r="3.6" fill="#f3b36b" stroke="#e9a75e" stroke-width="0.6"/>
<circle cx="1659.04" cy="1054.03" r="3.6" fill="#f3b36b" stroke="#e9a75e" stroke-width="0.6"/>
<circle cx="1659.42" cy="1073.82" r="3.6" fill="#f3b36b" stroke="#e9a75e" stroke-width="0.6"/>
<circle cx="1668.73" cy="1054.11" r="3.6" fill="#f3b36b" stroke="#e9a75e" stroke-width="0.6"/>
<circle cx="1662.89" cy="1066.78" r="3.6" fill="#f3b36b" stroke="#e9a75e" stroke-width="0.6"/>
<circle cx="1666.56" cy="1058.8" r="3.6" fill="#f3b36b" stroke="#e9a75e" stroke-width="0.6"/>
<circle cx="1662.93" cy="1063.03" r="3.6" fill="#f3b36b" stroke="#e9a75e" stroke-width="0.6"/>
<circle cx="1666.98" cy="1060.77" r="3.6" fill="#f3b36b" stroke="#e9a75e" stroke-width="0.6"/>
<circle cx="1668.33" cy="1061.38" r="3.6" fill="#f3b36b" stroke="#e9a75e" stroke-width="0.6"/>
<circle cx="1659.58" cy="1072.19" r="3.6" fill="#f3b36b" stroke="#e9a75e" stroke-width="0.6"/>
<circle cx="1662.98" cy="1056.86" r="3.6" fill="#f3b36b" stroke="#e9a75e" stroke-width="0.6"/>
<circle cx="1664.64" cy="1056.1" r="3.6" fill="#f3b36b" stroke="#e9a75e" stroke-width="0.6"/>
<circle cx="1666.45" cy="1072.13" r="3.6" fill="#f3b36b" stroke="#e9a75e" stroke-width="0.6"/>
<circle cx="1666.44" cy="1070.33" r="3.6" fill="#f3b36b" stroke="#e9a75e" stroke-width="0.6"/>
<circle cx="1661.27" cy="1064.43" r="3.6" fill="#f3b36b" stroke="#e9a75e" stroke-width="0.6"/>
<circle cx="1661.74" cy="1077.15" r="3.6" fill="#f3b36b" stroke="#e9a75e" stroke-width="0.6"/>
<circle cx="1658.03" cy="1077.1" r="3.6" fill="#f3b36b" stroke="#e9a75e" stroke-width="0.6"/>
<circle cx="1657.3" cy="1059.36" r="3.6" fill="#f3b36b" stroke="#e9a75e" stroke-width="0.6"/>
<line x1="1505.8" y1="1059.8" x2="1557.6" y2="1059.8" stroke="#1a1a1a" stroke-width="1.4" stroke-opacity="0.88"/>
<line x1="1505.8" y1="1063.4" x2="1557.6" y2="1063.4" stroke="#000" stroke-width="2" stroke-opacity="0.9"/>
<line x1="1505.8" y1="1066.6" x2="1557.6" y2="1066.6" stroke="#1a1a1a" stroke-width="1.4" stroke-opacity="0.88"/>
<line x1="1636.1" y1="1061.2" x2="1687.9" y2="1061.2" stroke="#1a1a1a" stroke-width="1.4" stroke-opacity="0.88"/>
<line x1="1636.1" y1="1064.5" x2="1687.9" y2="1064.5" stroke="#000" stroke-width="2" stroke-opacity="0.9"/>
<line x1="1636.1" y1="1067.8" x2="1687.9" y2="1067.8" stroke="#1a1a1a" stroke-width="1.4" stroke-opacity="0.88"/>
<rect x="1467.9" y="636.4" width="259.3" height="486" fill="none" stroke="#222" stroke-width="2"/>
<line x1="1531.7" y1="1122.4" x2="1531.7" y2="1116.4" stroke="#222" stroke-width="2"/>
<line x1="1531.7" y1="636.4" x2="1531.7" y2="642.4" stroke="#222" stroke-width="2"/>
<line x1="1662" y1="1122.4" x2="1662" y2="1116.4" stroke="#222" stroke-width="2"/>
<line x1="1662" y1="636.4" x2="1662" y2="642.4" stroke="#222" stroke-width="2"/>
<line x1="1467.9" y1="1068.4" x2="1473.9" y2="1068.4" stroke="#222" stroke-width="2"/>
<line x1="1727.2" y1="1068.4" x2="1721.2" y2="1068.4" stroke="#222" stroke-width="2"/>
<line x1="1467.9" y1="1014.4" x2="1473.9" y2="1014.4" stroke="#222" stroke-width="2"/>
<line x1="1727.2" y1="1014.4" x2="1721.2" y2="1014.4" stroke="#222" stroke-width="2"/>
<line x1="1467.9" y1="960.4" x2="1473.9" y2="960.4" stroke="#222" stroke-width="2"/>
<line x1="1727.2" y1="960.4" x2="1721.2" y2="960.4" stroke="#222" stroke-width="2"/>
<line x1="1467.9" y1="906.4" x2="1473.9" y2="906.4" stroke="#222" stroke-width="2"/>
<line x1="1727.2" y1="906.4" x2="1721.2" y2="906.4" stroke="#222" stroke-width="2"/>
<line x1="1467.9" y1="852.4" x2="1473.9" y2="852.4" stroke="#222" stroke-width="2"/>
<line x1="1727.2" y1="852.4" x2="1721.2" y2="852.4" stroke="#222" stroke-width="2"/>
<line x1="1467.9" y1="798.4" x2="1473.9" y2="798.4" stroke="#222" stroke-width="2"/>
<line x1="1727.2" y1="798.4" x2="1721.2" y2="798.4" stroke="#222" stroke-width="2"/>
<line x1="1467.9" y1="744.4" x2="1473.9" y2="744.4" stroke="#222" stroke-width="2"/>
<line x1="1727.2" y1="744.4" x2="1721.2" y2="744.4" stroke="#222" stroke-width="2"/>
<line x1="1467.9" y1="690.4" x2="1473.9" y2="690.4" stroke="#222" stroke-width="2"/>
<line x1="1727.2" y1="690.4" x2="1721.2" y2="690.4" stroke="#222" stroke-width="2"/>
<text x="1459.8" y="1077.8" font-size="24" text-anchor="end" fill="#1a1a1a">0</text>
<text x="1459.8" y="969.8" font-size="24" text-anchor="end" fill="#1a1a1a">200</text>
<text x="1459.8" y="861.8" font-size="24" text-anchor="end" fill="#1a1a1a">400</text>
<text x="1459.8" y="753.8" font-size="24" text-anchor="end" fill="#1a1a1a">600</text>
<text x="1459.8" y="645.8" font-size="24" text-anchor="end" fill="#1a1a1a">800</text>
<text x="1531.2" y="1153" font-size="24" text-anchor="middle" fill="#1a1a1a">Pref</text>
<text x="1661.5" y="1153" font-size="24" text-anchor="middle" fill="#1a1a1a">NonPref</text>
<text x="1596.1" y="1187.5" font-size="26.3" text-anchor="middle" fill="#1a1a1a">Trial type</text>
<polyline points="1533.2,675.9 1533.2,665.3 1662.1,665.3 1662.1,675.9" fill="none" stroke="#000" stroke-width="2"/>
<text x="1600.2" y="656.5" font-size="25.4" text-anchor="middle" fill="#000">ns</text>
<text x="1533.1" y="699.7" font-size="25.4" text-anchor="middle" fill="#000">ns</text>
<text x="1662" y="701" font-size="25.4" text-anchor="middle" fill="#000">ns</text>
<text x="18.8" y="1011.8" font-size="26.3" text-anchor="start" fill="#1a1a1a" transform="rotate(-90 18.8 1011.8)">FR (bsl-normalized in %)</text>
</svg>
</body></html>
